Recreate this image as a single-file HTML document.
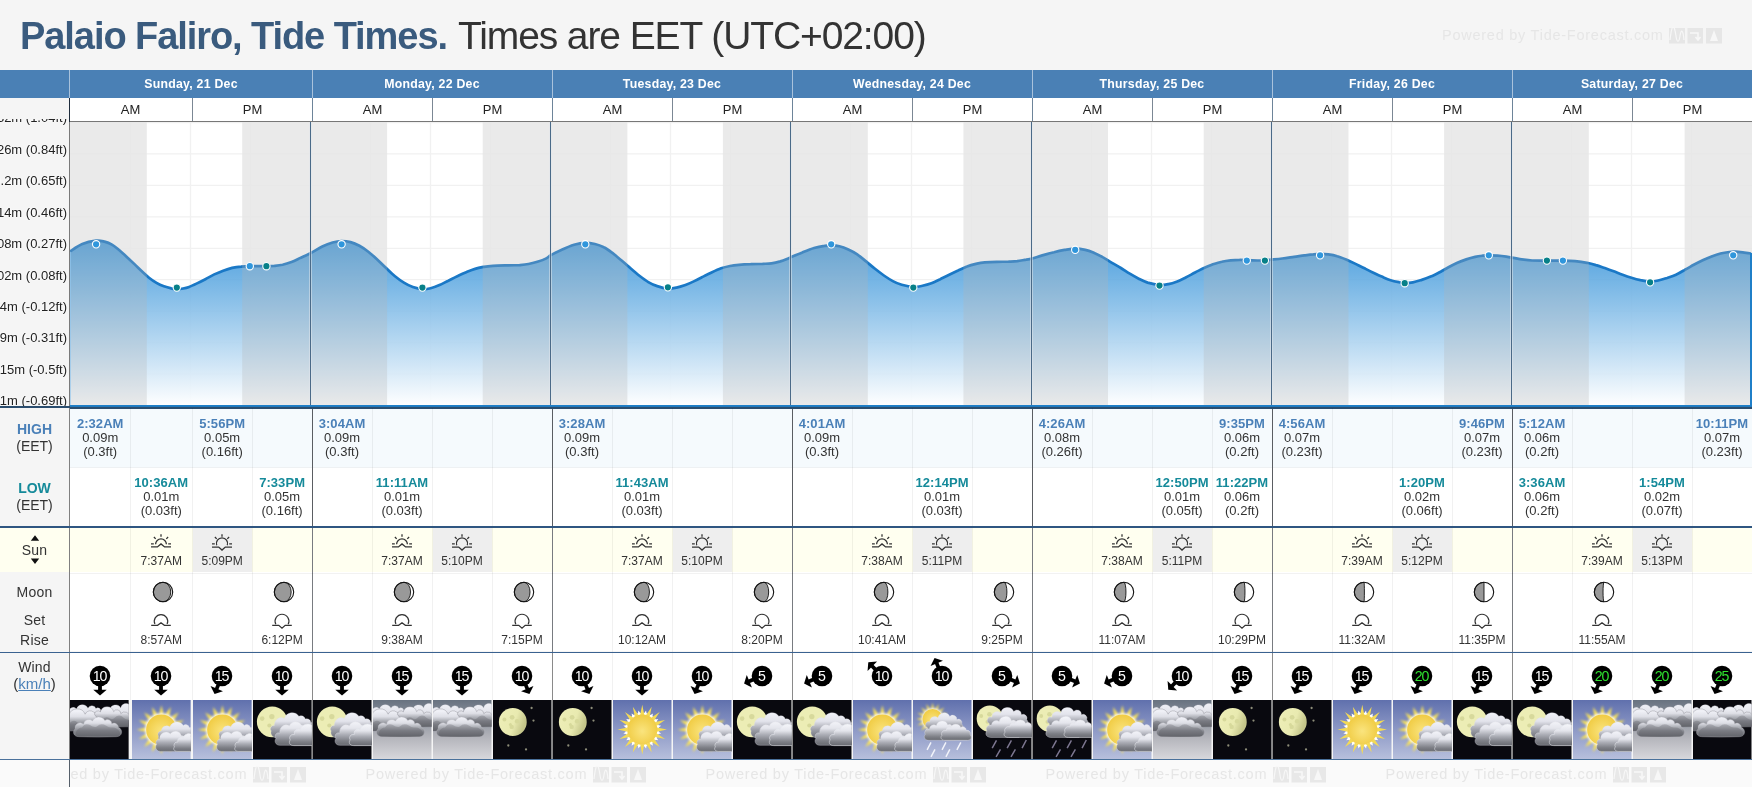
<!DOCTYPE html><html><head><meta charset="utf-8"><title>Palaio Faliro Tide Times</title><style>

html,body{margin:0;padding:0;background:#f5f5f5}
body{width:1752px;height:787px;overflow:hidden;will-change:transform;background:#f5f5f5;font-family:"Liberation Sans",sans-serif;position:relative;color:#333}
.abs{position:absolute}
.t{position:absolute;white-space:nowrap;text-align:center}
.title{position:absolute;left:20px;top:14px;font-size:38px;line-height:44px;white-space:nowrap;color:#333;letter-spacing:-0.58px}
.title b{color:#3a5b7e;letter-spacing:-1.07px}
.dayh{position:absolute;top:70px;height:28px;line-height:28px;color:#fff;font-weight:bold;font-size:12.3px;letter-spacing:0.25px;text-align:center}
.ampm{position:absolute;top:98px;height:23px;line-height:23px;font-size:13px;color:#222;text-align:center;background:#fff}
.yl{position:absolute;right:1685px;white-space:nowrap;font-size:13px;line-height:14px;color:#222;text-shadow:0 0 2px #fff,0 0 3px #fff}
.cell{position:absolute;text-align:center;font-size:13px;line-height:14px;color:#333;white-space:nowrap}
.cell b{display:block;font-size:13px;letter-spacing:0.06px}
.hi b{color:#4a80b8}.lo b{color:#158a9a}
.lab{position:absolute;left:0;width:69px;text-align:center;font-size:14px;line-height:17px;color:#333}
.st{position:absolute;text-align:center;font-size:12px;line-height:14px;color:#333;white-space:nowrap}
.wm{position:absolute;font-size:14.5px;line-height:18px;color:#e6e6e6;white-space:nowrap;letter-spacing:0.75px}

</style></head><body>
<div class="title"><b>Palaio Faliro, Tide Times.</b> <span style="font-size:39px;letter-spacing:-1.1px;margin-left:1px">Times are EET (UTC+02:00)</span></div>
<div class="wm" style="left:1442px;top:26px">Powered by Tide-Forecast.com</div>
<svg class="abs" style="left:1667.0px;top:26.5px" width="56" height="18" viewBox="0 0 56 18"><rect x="2" y="1" width="16" height="15.5" fill="#e6e6e6"/><rect x="20.5" y="1" width="15.5" height="15.5" fill="#e6e6e6"/><rect x="39" y="1" width="16" height="15.5" fill="#e6e6e6"/><path d="M3,13 C5,-4 7,-4 9,9 C10,16 12,16 13,9 C14,2 16,2 17,13" fill="none" stroke="#f7f7f7" stroke-width="1.2"/><path d="M23,6 H31 V12 M28.5,10 L31,13 L33.5,10" fill="none" stroke="#f7f7f7" stroke-width="1.6"/><path d="M47,3 L51,14 H43 Z" fill="#f7f7f7"/></svg>
<div class="abs" style="left:0;top:70px;width:1752px;height:28px;background:#4a80b5"></div>
<div class="abs" style="left:69px;top:70px;width:1px;height:28px;background:#a9c2dc"></div>
<div class="dayh" style="left:70px;width:242px">Sunday, 21 Dec</div>
<div class="dayh" style="left:312px;width:240px">Monday, 22 Dec</div>
<div class="abs" style="left:312px;top:70px;width:1px;height:28px;background:#a9c2dc"></div>
<div class="dayh" style="left:552px;width:240px">Tuesday, 23 Dec</div>
<div class="abs" style="left:552px;top:70px;width:1px;height:28px;background:#a9c2dc"></div>
<div class="dayh" style="left:792px;width:240px">Wednesday, 24 Dec</div>
<div class="abs" style="left:792px;top:70px;width:1px;height:28px;background:#a9c2dc"></div>
<div class="dayh" style="left:1032px;width:240px">Thursday, 25 Dec</div>
<div class="abs" style="left:1032px;top:70px;width:1px;height:28px;background:#a9c2dc"></div>
<div class="dayh" style="left:1272px;width:240px">Friday, 26 Dec</div>
<div class="abs" style="left:1272px;top:70px;width:1px;height:28px;background:#a9c2dc"></div>
<div class="dayh" style="left:1512px;width:240px">Saturday, 27 Dec</div>
<div class="abs" style="left:1512px;top:70px;width:1px;height:28px;background:#a9c2dc"></div>
<div class="abs" style="left:70px;top:98px;width:1682px;height:23px;background:#fff"></div>
<div class="ampm" style="left:71px;width:119px">AM</div>
<div class="ampm" style="left:193px;width:119px">PM</div>
<div class="abs" style="left:192px;top:98px;width:1px;height:23px;background:#7b8794"></div>
<div class="ampm" style="left:313px;width:119px">AM</div>
<div class="ampm" style="left:433px;width:119px">PM</div>
<div class="abs" style="left:432px;top:98px;width:1px;height:23px;background:#7b8794"></div>
<div class="abs" style="left:312px;top:98px;width:1px;height:23px;background:#6d8499"></div>
<div class="ampm" style="left:553px;width:119px">AM</div>
<div class="ampm" style="left:673px;width:119px">PM</div>
<div class="abs" style="left:672px;top:98px;width:1px;height:23px;background:#7b8794"></div>
<div class="abs" style="left:552px;top:98px;width:1px;height:23px;background:#6d8499"></div>
<div class="ampm" style="left:793px;width:119px">AM</div>
<div class="ampm" style="left:913px;width:119px">PM</div>
<div class="abs" style="left:912px;top:98px;width:1px;height:23px;background:#7b8794"></div>
<div class="abs" style="left:792px;top:98px;width:1px;height:23px;background:#6d8499"></div>
<div class="ampm" style="left:1033px;width:119px">AM</div>
<div class="ampm" style="left:1153px;width:119px">PM</div>
<div class="abs" style="left:1152px;top:98px;width:1px;height:23px;background:#7b8794"></div>
<div class="abs" style="left:1032px;top:98px;width:1px;height:23px;background:#6d8499"></div>
<div class="ampm" style="left:1273px;width:119px">AM</div>
<div class="ampm" style="left:1393px;width:119px">PM</div>
<div class="abs" style="left:1392px;top:98px;width:1px;height:23px;background:#7b8794"></div>
<div class="abs" style="left:1272px;top:98px;width:1px;height:23px;background:#6d8499"></div>
<div class="ampm" style="left:1513px;width:119px">AM</div>
<div class="ampm" style="left:1633px;width:119px">PM</div>
<div class="abs" style="left:1632px;top:98px;width:1px;height:23px;background:#7b8794"></div>
<div class="abs" style="left:1512px;top:98px;width:1px;height:23px;background:#6d8499"></div>
<div class="abs" style="left:69px;top:98px;width:1px;height:24px;background:#1e2c3c"></div>
<div class="abs" style="left:70px;top:121px;width:1682px;height:1px;background:#777"></div>
<div class="abs" style="left:0;top:118.5px;width:69px;height:288.5px;overflow:hidden">
<div class="yl" style="right:2px;top:-7.2px">0.32m (1.04ft)</div>
<div class="yl" style="right:2px;top:24.2px">0.26m (0.84ft)</div>
<div class="yl" style="right:2px;top:55.7px">0.2m (0.65ft)</div>
<div class="yl" style="right:2px;top:87.1px">0.14m (0.46ft)</div>
<div class="yl" style="right:2px;top:118.6px">0.08m (0.27ft)</div>
<div class="yl" style="right:2px;top:150.0px">0.02m (0.08ft)</div>
<div class="yl" style="right:2px;top:181.4px">-0.04m (-0.12ft)</div>
<div class="yl" style="right:2px;top:212.9px">-0.09m (-0.31ft)</div>
<div class="yl" style="right:2px;top:244.3px">-0.15m (-0.5ft)</div>
<div class="yl" style="right:2px;top:275.8px">-0.21m (-0.69ft)</div>
</div>
<svg class="abs" style="left:0;top:0" width="1752" height="787" viewBox="0 0 1752 787">
<defs><linearGradient id="ag" x1="0" y1="241" x2="0" y2="406" gradientUnits="userSpaceOnUse"><stop offset="0" stop-color="#3090d8" stop-opacity="0.86"/><stop offset="1" stop-color="#ffffff" stop-opacity="0.92"/></linearGradient>
<clipPath id="cc"><rect x="70" y="122" width="1682" height="286"/></clipPath></defs>
<rect x="70" y="122" width="1682" height="285" fill="#fff"/>
<g clip-path="url(#cc)">
<line x1="70" x2="1752" y1="122.5" y2="122.5" stroke="#f1f1f1" stroke-width="1.3"/>
<line x1="70" x2="1752" y1="153.9" y2="153.9" stroke="#f1f1f1" stroke-width="1.3"/>
<line x1="70" x2="1752" y1="185.4" y2="185.4" stroke="#f1f1f1" stroke-width="1.3"/>
<line x1="70" x2="1752" y1="216.8" y2="216.8" stroke="#f1f1f1" stroke-width="1.3"/>
<line x1="70" x2="1752" y1="248.3" y2="248.3" stroke="#f1f1f1" stroke-width="1.3"/>
<line x1="70" x2="1752" y1="279.7" y2="279.7" stroke="#f1f1f1" stroke-width="1.3"/>
<line x1="70" x2="1752" y1="311.1" y2="311.1" stroke="#f1f1f1" stroke-width="1.3"/>
<line x1="70" x2="1752" y1="342.6" y2="342.6" stroke="#f1f1f1" stroke-width="1.3"/>
<line x1="70" x2="1752" y1="374.0" y2="374.0" stroke="#f1f1f1" stroke-width="1.3"/>
<line x1="70" x2="1752" y1="405.5" y2="405.5" stroke="#f1f1f1" stroke-width="1.3"/>
<line x1="130.5" x2="130.5" y1="122" y2="407" stroke="#f1f1f1" stroke-width="1.3"/>
<line x1="190.5" x2="190.5" y1="122" y2="407" stroke="#f1f1f1" stroke-width="1.3"/>
<line x1="250.5" x2="250.5" y1="122" y2="407" stroke="#f1f1f1" stroke-width="1.3"/>
<line x1="370.5" x2="370.5" y1="122" y2="407" stroke="#f1f1f1" stroke-width="1.3"/>
<line x1="430.5" x2="430.5" y1="122" y2="407" stroke="#f1f1f1" stroke-width="1.3"/>
<line x1="490.5" x2="490.5" y1="122" y2="407" stroke="#f1f1f1" stroke-width="1.3"/>
<line x1="610.5" x2="610.5" y1="122" y2="407" stroke="#f1f1f1" stroke-width="1.3"/>
<line x1="670.5" x2="670.5" y1="122" y2="407" stroke="#f1f1f1" stroke-width="1.3"/>
<line x1="730.5" x2="730.5" y1="122" y2="407" stroke="#f1f1f1" stroke-width="1.3"/>
<line x1="850.5" x2="850.5" y1="122" y2="407" stroke="#f1f1f1" stroke-width="1.3"/>
<line x1="911.5" x2="911.5" y1="122" y2="407" stroke="#f1f1f1" stroke-width="1.3"/>
<line x1="971.5" x2="971.5" y1="122" y2="407" stroke="#f1f1f1" stroke-width="1.3"/>
<line x1="1091.5" x2="1091.5" y1="122" y2="407" stroke="#f1f1f1" stroke-width="1.3"/>
<line x1="1151.5" x2="1151.5" y1="122" y2="407" stroke="#f1f1f1" stroke-width="1.3"/>
<line x1="1211.5" x2="1211.5" y1="122" y2="407" stroke="#f1f1f1" stroke-width="1.3"/>
<line x1="1331.5" x2="1331.5" y1="122" y2="407" stroke="#f1f1f1" stroke-width="1.3"/>
<line x1="1391.5" x2="1391.5" y1="122" y2="407" stroke="#f1f1f1" stroke-width="1.3"/>
<line x1="1451.5" x2="1451.5" y1="122" y2="407" stroke="#f1f1f1" stroke-width="1.3"/>
<line x1="1571.5" x2="1571.5" y1="122" y2="407" stroke="#f1f1f1" stroke-width="1.3"/>
<line x1="1631.5" x2="1631.5" y1="122" y2="407" stroke="#f1f1f1" stroke-width="1.3"/>
<line x1="1691.5" x2="1691.5" y1="122" y2="407" stroke="#f1f1f1" stroke-width="1.3"/>
<rect x="70.0" y="122" width="76.8" height="285" fill="#fff" fill-opacity="0.8"/>
<rect x="242.2" y="122" width="68.1" height="285" fill="#fff" fill-opacity="0.8"/>
<rect x="310.3" y="122" width="76.8" height="285" fill="#fff" fill-opacity="0.8"/>
<rect x="482.7" y="122" width="67.9" height="285" fill="#fff" fill-opacity="0.8"/>
<rect x="550.6" y="122" width="76.8" height="285" fill="#fff" fill-opacity="0.8"/>
<rect x="722.9" y="122" width="67.9" height="285" fill="#fff" fill-opacity="0.8"/>
<rect x="790.9" y="122" width="76.9" height="285" fill="#fff" fill-opacity="0.8"/>
<rect x="963.4" y="122" width="67.7" height="285" fill="#fff" fill-opacity="0.8"/>
<rect x="1031.1" y="122" width="76.9" height="285" fill="#fff" fill-opacity="0.8"/>
<rect x="1203.7" y="122" width="67.7" height="285" fill="#fff" fill-opacity="0.8"/>
<rect x="1271.4" y="122" width="77.1" height="285" fill="#fff" fill-opacity="0.8"/>
<rect x="1444.1" y="122" width="67.6" height="285" fill="#fff" fill-opacity="0.8"/>
<rect x="1511.7" y="122" width="77.1" height="285" fill="#fff" fill-opacity="0.8"/>
<rect x="1684.6" y="122" width="67.4" height="285" fill="#fff" fill-opacity="0.8"/>
<path d="M70.1,251.4 C72.1,250.2 77.9,245.8 82.3,244.0 C86.6,242.2 92.4,241.1 96.1,240.7 C99.8,240.3 101.9,241.0 104.5,241.6 C107.2,242.3 109.5,243.2 111.9,244.6 C114.4,246.0 116.9,248.2 119.4,250.2 C121.8,252.3 124.3,254.6 126.8,256.9 C129.3,259.2 131.7,261.5 134.2,263.9 C136.7,266.2 139.1,268.7 141.6,271.0 C144.1,273.3 146.6,275.7 149.0,277.7 C151.5,279.7 154.0,281.4 156.5,282.9 C158.9,284.3 161.4,285.4 163.9,286.3 C166.4,287.2 169.1,287.9 171.3,288.4 C173.5,288.8 174.8,289.1 176.8,289.1 C178.8,289.1 181.1,288.9 183.2,288.5 C185.2,288.1 186.9,287.7 189.1,286.9 C191.3,286.1 193.8,284.9 196.5,283.6 C199.3,282.3 202.5,280.7 205.4,279.2 C208.4,277.6 211.4,275.8 214.3,274.4 C217.3,273.0 220.3,271.8 223.2,270.7 C226.2,269.6 229.2,268.6 232.1,267.9 C235.1,267.2 238.1,266.8 241.1,266.6 C244.0,266.3 245.7,266.2 250.0,266.1 C254.2,266.0 262.3,266.1 266.3,266.1 C270.2,266.1 271.0,266.2 273.7,266.0 C276.4,265.7 279.6,265.4 282.6,264.8 C285.6,264.1 288.5,263.2 291.5,262.1 C294.5,261.0 297.3,259.4 300.4,257.9 C303.6,256.5 306.7,255.1 310.4,253.2 C314.0,251.3 318.6,248.3 322.3,246.5 C326.0,244.7 329.4,243.4 332.6,242.5 C335.9,241.6 338.6,241.1 341.6,241.0 C344.5,241.0 347.5,241.3 350.5,242.1 C353.4,242.9 356.4,244.2 359.4,245.8 C362.3,247.4 365.3,249.4 368.3,251.7 C371.2,254.0 374.2,256.7 377.2,259.4 C380.1,262.1 383.1,265.2 386.1,268.0 C389.0,270.8 392.0,273.8 395.0,276.2 C397.9,278.6 400.9,280.8 403.9,282.6 C406.8,284.4 409.7,285.9 412.8,287.0 C415.9,288.1 419.5,288.9 422.4,289.1 C425.4,289.3 427.7,288.9 430.6,288.2 C433.4,287.6 436.5,286.4 439.5,285.1 C442.5,283.8 445.4,282.1 448.4,280.7 C451.4,279.2 454.3,277.6 457.3,276.2 C460.3,274.8 463.2,273.4 466.2,272.2 C469.2,271.0 472.1,269.8 475.1,268.9 C478.1,268.0 481.1,267.4 484.0,266.8 C487.0,266.3 489.0,266.1 492.9,265.8 C496.9,265.6 503.3,265.5 507.8,265.4 C512.2,265.2 516.2,265.3 519.6,265.1 C523.1,264.8 525.6,264.6 528.5,264.0 C531.5,263.5 534.5,262.7 537.4,261.8 C540.4,260.9 544.2,259.5 546.3,258.4 C548.5,257.3 547.7,256.9 550.4,255.4 C553.0,253.9 558.3,251.3 562.3,249.5 C566.2,247.7 570.3,245.9 574.1,244.7 C578.0,243.6 581.8,242.9 585.3,242.8 C588.7,242.7 591.8,243.3 594.9,244.0 C598.0,244.7 600.8,245.7 603.8,247.3 C606.8,248.8 609.7,251.0 612.7,253.2 C615.7,255.4 618.7,258.1 621.6,260.6 C624.6,263.1 627.6,265.8 630.5,268.3 C633.5,270.9 636.5,273.5 639.4,275.8 C642.4,278.1 645.4,280.4 648.3,282.1 C651.3,283.9 654.0,285.1 657.2,286.1 C660.5,287.2 664.4,288.3 667.6,288.5 C670.8,288.8 673.6,288.2 676.5,287.6 C679.5,287.0 682.5,286.0 685.4,285.0 C688.4,283.9 691.4,282.5 694.3,281.1 C697.3,279.7 700.3,278.1 703.2,276.6 C706.2,275.2 709.2,273.6 712.1,272.2 C715.1,270.8 718.1,269.4 721.1,268.3 C724.0,267.3 727.0,266.6 730.0,266.0 C732.9,265.4 735.4,265.1 738.9,264.8 C742.3,264.5 746.8,264.3 750.7,264.2 C754.7,264.0 759.1,264.0 762.6,263.9 C766.1,263.7 768.5,263.7 771.5,263.3 C774.5,262.9 777.4,262.2 780.4,261.4 C783.4,260.5 785.7,259.4 789.3,257.9 C793.0,256.5 798.1,254.1 802.3,252.5 C806.4,250.8 810.4,249.1 814.1,248.0 C817.8,246.9 821.7,246.2 824.5,245.8 C827.4,245.3 828.7,245.3 831.2,245.3 C833.7,245.4 836.5,245.5 839.4,246.2 C842.2,246.9 845.3,248.1 848.3,249.5 C851.2,250.8 854.2,252.4 857.2,254.4 C860.1,256.4 863.1,259.0 866.1,261.4 C869.0,263.8 872.0,266.4 875.0,268.8 C877.9,271.1 880.9,273.4 883.9,275.5 C886.8,277.5 889.8,279.5 892.8,281.1 C895.8,282.7 898.2,283.8 901.7,284.8 C905.2,285.8 910.1,286.9 913.6,287.0 C917.0,287.2 919.5,286.5 922.5,285.8 C925.4,285.2 928.4,284.4 931.4,283.3 C934.3,282.2 937.3,280.6 940.3,279.2 C943.2,277.7 946.2,276.1 949.2,274.7 C952.1,273.3 955.1,271.9 958.1,270.6 C961.1,269.2 964.0,267.7 967.0,266.6 C970.0,265.4 972.9,264.6 975.9,263.9 C978.9,263.2 981.3,262.7 984.8,262.4 C988.3,262.1 992.7,261.9 996.7,261.8 C1000.6,261.7 1005.1,261.8 1008.5,261.7 C1012.0,261.5 1014.5,261.4 1017.4,261.1 C1020.4,260.7 1024.1,259.9 1026.3,259.6 C1028.6,259.2 1028.5,259.5 1031.1,258.8 C1033.8,258.1 1038.4,256.5 1042.3,255.4 C1046.1,254.3 1050.4,253.1 1054.1,252.2 C1057.8,251.2 1061.0,250.5 1064.5,249.9 C1068.0,249.4 1071.7,248.7 1075.2,248.7 C1078.7,248.7 1082.1,249.2 1085.3,249.9 C1088.5,250.6 1091.2,251.7 1094.2,252.9 C1097.2,254.1 1100.1,255.7 1103.1,257.4 C1106.1,259.0 1109.0,261.1 1112.0,262.8 C1115.0,264.6 1117.9,266.2 1120.9,268.0 C1123.9,269.8 1126.8,271.9 1129.8,273.7 C1132.8,275.5 1135.8,277.2 1138.7,278.7 C1141.7,280.2 1144.2,281.5 1147.6,282.6 C1151.1,283.6 1156.0,284.7 1159.5,285.0 C1163.0,285.2 1165.4,284.7 1168.4,284.1 C1171.4,283.5 1174.3,282.5 1177.3,281.4 C1180.3,280.3 1183.2,278.7 1186.2,277.2 C1189.2,275.8 1192.1,274.0 1195.1,272.5 C1198.1,271.0 1201.1,269.4 1204.0,268.0 C1207.0,266.7 1210.0,265.4 1212.9,264.3 C1215.9,263.3 1218.9,262.3 1221.8,261.7 C1224.8,261.0 1227.8,260.6 1230.7,260.3 C1233.7,260.0 1236.9,259.9 1239.6,259.9 C1242.4,259.8 1244.1,260.1 1247.1,260.2 C1250.0,260.3 1254.5,260.4 1257.4,260.5 C1260.4,260.5 1262.6,260.6 1264.9,260.5 C1267.1,260.3 1268.2,260.0 1271.1,259.7 C1274.0,259.4 1278.4,259.0 1282.3,258.5 C1286.1,258.1 1290.4,257.4 1294.1,256.9 C1297.8,256.4 1301.3,255.8 1304.5,255.4 C1307.7,255.0 1310.8,254.6 1313.4,254.4 C1316.0,254.1 1317.6,253.9 1320.1,253.9 C1322.6,253.9 1325.4,254.0 1328.3,254.4 C1331.1,254.8 1334.2,255.3 1337.2,256.2 C1340.1,257.0 1343.1,258.2 1346.1,259.4 C1349.0,260.7 1352.0,262.1 1355.0,263.6 C1357.9,265.0 1360.9,266.6 1363.9,268.0 C1366.8,269.5 1369.8,271.1 1372.8,272.5 C1375.8,273.9 1378.7,275.4 1381.7,276.6 C1384.7,277.9 1387.6,279.3 1390.6,280.2 C1393.6,281.1 1397.1,281.8 1399.5,282.3 C1401.8,282.7 1402.5,282.9 1404.7,282.9 C1406.9,282.9 1410.0,282.8 1412.9,282.3 C1415.7,281.8 1418.8,280.8 1421.8,279.9 C1424.7,279.0 1427.7,277.9 1430.7,276.6 C1433.6,275.4 1436.6,273.8 1439.6,272.2 C1442.5,270.6 1445.5,268.9 1448.5,267.3 C1451.4,265.7 1454.4,264.2 1457.4,262.8 C1460.3,261.5 1463.3,260.4 1466.3,259.4 C1469.2,258.4 1472.5,257.5 1475.2,256.9 C1477.9,256.3 1480.3,256.0 1482.6,255.7 C1485.0,255.4 1486.8,255.3 1489.3,255.3 C1491.8,255.3 1494.6,255.5 1497.4,255.7 C1500.3,255.9 1504.0,256.3 1506.3,256.6 C1508.7,256.9 1508.7,257.2 1511.3,257.6 C1513.8,258.1 1518.2,259.0 1521.7,259.4 C1525.1,259.9 1527.9,260.3 1532.1,260.5 C1536.3,260.7 1541.7,260.6 1546.9,260.6 C1552.1,260.6 1558.5,260.5 1563.2,260.6 C1567.9,260.7 1571.1,260.8 1575.1,261.2 C1579.1,261.6 1583.5,262.2 1587.0,262.8 C1590.4,263.5 1592.9,264.2 1595.9,265.1 C1598.8,265.9 1601.8,267.0 1604.8,268.0 C1607.8,269.1 1610.7,270.2 1613.7,271.3 C1616.7,272.4 1619.6,273.7 1622.6,274.7 C1625.6,275.8 1628.5,276.8 1631.5,277.7 C1634.5,278.6 1637.3,279.4 1640.4,280.1 C1643.5,280.7 1647.1,281.3 1650.0,281.4 C1653.0,281.5 1655.4,281.1 1658.2,280.5 C1661.1,279.9 1664.1,278.9 1667.1,278.0 C1670.1,277.0 1673.1,276.1 1676.0,274.7 C1679.0,273.4 1682.0,271.5 1684.9,269.8 C1687.9,268.2 1690.9,266.4 1693.8,264.8 C1696.8,263.2 1699.8,261.7 1702.7,260.3 C1705.7,258.9 1708.7,257.6 1711.6,256.5 C1714.6,255.3 1717.6,254.2 1720.5,253.5 C1723.5,252.8 1727.0,252.3 1729.4,252.0 C1731.9,251.7 1732.9,251.6 1735.4,251.7 C1737.9,251.8 1741.7,252.3 1744.3,252.6 C1746.9,252.9 1749.8,253.3 1751.0,253.5 L1752,407 L70,407 Z" fill="url(#ag)"/>
<path d="M70.1,251.4 C72.1,250.2 77.9,245.8 82.3,244.0 C86.6,242.2 92.4,241.1 96.1,240.7 C99.8,240.3 101.9,241.0 104.5,241.6 C107.2,242.3 109.5,243.2 111.9,244.6 C114.4,246.0 116.9,248.2 119.4,250.2 C121.8,252.3 124.3,254.6 126.8,256.9 C129.3,259.2 131.7,261.5 134.2,263.9 C136.7,266.2 139.1,268.7 141.6,271.0 C144.1,273.3 146.6,275.7 149.0,277.7 C151.5,279.7 154.0,281.4 156.5,282.9 C158.9,284.3 161.4,285.4 163.9,286.3 C166.4,287.2 169.1,287.9 171.3,288.4 C173.5,288.8 174.8,289.1 176.8,289.1 C178.8,289.1 181.1,288.9 183.2,288.5 C185.2,288.1 186.9,287.7 189.1,286.9 C191.3,286.1 193.8,284.9 196.5,283.6 C199.3,282.3 202.5,280.7 205.4,279.2 C208.4,277.6 211.4,275.8 214.3,274.4 C217.3,273.0 220.3,271.8 223.2,270.7 C226.2,269.6 229.2,268.6 232.1,267.9 C235.1,267.2 238.1,266.8 241.1,266.6 C244.0,266.3 245.7,266.2 250.0,266.1 C254.2,266.0 262.3,266.1 266.3,266.1 C270.2,266.1 271.0,266.2 273.7,266.0 C276.4,265.7 279.6,265.4 282.6,264.8 C285.6,264.1 288.5,263.2 291.5,262.1 C294.5,261.0 297.3,259.4 300.4,257.9 C303.6,256.5 306.7,255.1 310.4,253.2 C314.0,251.3 318.6,248.3 322.3,246.5 C326.0,244.7 329.4,243.4 332.6,242.5 C335.9,241.6 338.6,241.1 341.6,241.0 C344.5,241.0 347.5,241.3 350.5,242.1 C353.4,242.9 356.4,244.2 359.4,245.8 C362.3,247.4 365.3,249.4 368.3,251.7 C371.2,254.0 374.2,256.7 377.2,259.4 C380.1,262.1 383.1,265.2 386.1,268.0 C389.0,270.8 392.0,273.8 395.0,276.2 C397.9,278.6 400.9,280.8 403.9,282.6 C406.8,284.4 409.7,285.9 412.8,287.0 C415.9,288.1 419.5,288.9 422.4,289.1 C425.4,289.3 427.7,288.9 430.6,288.2 C433.4,287.6 436.5,286.4 439.5,285.1 C442.5,283.8 445.4,282.1 448.4,280.7 C451.4,279.2 454.3,277.6 457.3,276.2 C460.3,274.8 463.2,273.4 466.2,272.2 C469.2,271.0 472.1,269.8 475.1,268.9 C478.1,268.0 481.1,267.4 484.0,266.8 C487.0,266.3 489.0,266.1 492.9,265.8 C496.9,265.6 503.3,265.5 507.8,265.4 C512.2,265.2 516.2,265.3 519.6,265.1 C523.1,264.8 525.6,264.6 528.5,264.0 C531.5,263.5 534.5,262.7 537.4,261.8 C540.4,260.9 544.2,259.5 546.3,258.4 C548.5,257.3 547.7,256.9 550.4,255.4 C553.0,253.9 558.3,251.3 562.3,249.5 C566.2,247.7 570.3,245.9 574.1,244.7 C578.0,243.6 581.8,242.9 585.3,242.8 C588.7,242.7 591.8,243.3 594.9,244.0 C598.0,244.7 600.8,245.7 603.8,247.3 C606.8,248.8 609.7,251.0 612.7,253.2 C615.7,255.4 618.7,258.1 621.6,260.6 C624.6,263.1 627.6,265.8 630.5,268.3 C633.5,270.9 636.5,273.5 639.4,275.8 C642.4,278.1 645.4,280.4 648.3,282.1 C651.3,283.9 654.0,285.1 657.2,286.1 C660.5,287.2 664.4,288.3 667.6,288.5 C670.8,288.8 673.6,288.2 676.5,287.6 C679.5,287.0 682.5,286.0 685.4,285.0 C688.4,283.9 691.4,282.5 694.3,281.1 C697.3,279.7 700.3,278.1 703.2,276.6 C706.2,275.2 709.2,273.6 712.1,272.2 C715.1,270.8 718.1,269.4 721.1,268.3 C724.0,267.3 727.0,266.6 730.0,266.0 C732.9,265.4 735.4,265.1 738.9,264.8 C742.3,264.5 746.8,264.3 750.7,264.2 C754.7,264.0 759.1,264.0 762.6,263.9 C766.1,263.7 768.5,263.7 771.5,263.3 C774.5,262.9 777.4,262.2 780.4,261.4 C783.4,260.5 785.7,259.4 789.3,257.9 C793.0,256.5 798.1,254.1 802.3,252.5 C806.4,250.8 810.4,249.1 814.1,248.0 C817.8,246.9 821.7,246.2 824.5,245.8 C827.4,245.3 828.7,245.3 831.2,245.3 C833.7,245.4 836.5,245.5 839.4,246.2 C842.2,246.9 845.3,248.1 848.3,249.5 C851.2,250.8 854.2,252.4 857.2,254.4 C860.1,256.4 863.1,259.0 866.1,261.4 C869.0,263.8 872.0,266.4 875.0,268.8 C877.9,271.1 880.9,273.4 883.9,275.5 C886.8,277.5 889.8,279.5 892.8,281.1 C895.8,282.7 898.2,283.8 901.7,284.8 C905.2,285.8 910.1,286.9 913.6,287.0 C917.0,287.2 919.5,286.5 922.5,285.8 C925.4,285.2 928.4,284.4 931.4,283.3 C934.3,282.2 937.3,280.6 940.3,279.2 C943.2,277.7 946.2,276.1 949.2,274.7 C952.1,273.3 955.1,271.9 958.1,270.6 C961.1,269.2 964.0,267.7 967.0,266.6 C970.0,265.4 972.9,264.6 975.9,263.9 C978.9,263.2 981.3,262.7 984.8,262.4 C988.3,262.1 992.7,261.9 996.7,261.8 C1000.6,261.7 1005.1,261.8 1008.5,261.7 C1012.0,261.5 1014.5,261.4 1017.4,261.1 C1020.4,260.7 1024.1,259.9 1026.3,259.6 C1028.6,259.2 1028.5,259.5 1031.1,258.8 C1033.8,258.1 1038.4,256.5 1042.3,255.4 C1046.1,254.3 1050.4,253.1 1054.1,252.2 C1057.8,251.2 1061.0,250.5 1064.5,249.9 C1068.0,249.4 1071.7,248.7 1075.2,248.7 C1078.7,248.7 1082.1,249.2 1085.3,249.9 C1088.5,250.6 1091.2,251.7 1094.2,252.9 C1097.2,254.1 1100.1,255.7 1103.1,257.4 C1106.1,259.0 1109.0,261.1 1112.0,262.8 C1115.0,264.6 1117.9,266.2 1120.9,268.0 C1123.9,269.8 1126.8,271.9 1129.8,273.7 C1132.8,275.5 1135.8,277.2 1138.7,278.7 C1141.7,280.2 1144.2,281.5 1147.6,282.6 C1151.1,283.6 1156.0,284.7 1159.5,285.0 C1163.0,285.2 1165.4,284.7 1168.4,284.1 C1171.4,283.5 1174.3,282.5 1177.3,281.4 C1180.3,280.3 1183.2,278.7 1186.2,277.2 C1189.2,275.8 1192.1,274.0 1195.1,272.5 C1198.1,271.0 1201.1,269.4 1204.0,268.0 C1207.0,266.7 1210.0,265.4 1212.9,264.3 C1215.9,263.3 1218.9,262.3 1221.8,261.7 C1224.8,261.0 1227.8,260.6 1230.7,260.3 C1233.7,260.0 1236.9,259.9 1239.6,259.9 C1242.4,259.8 1244.1,260.1 1247.1,260.2 C1250.0,260.3 1254.5,260.4 1257.4,260.5 C1260.4,260.5 1262.6,260.6 1264.9,260.5 C1267.1,260.3 1268.2,260.0 1271.1,259.7 C1274.0,259.4 1278.4,259.0 1282.3,258.5 C1286.1,258.1 1290.4,257.4 1294.1,256.9 C1297.8,256.4 1301.3,255.8 1304.5,255.4 C1307.7,255.0 1310.8,254.6 1313.4,254.4 C1316.0,254.1 1317.6,253.9 1320.1,253.9 C1322.6,253.9 1325.4,254.0 1328.3,254.4 C1331.1,254.8 1334.2,255.3 1337.2,256.2 C1340.1,257.0 1343.1,258.2 1346.1,259.4 C1349.0,260.7 1352.0,262.1 1355.0,263.6 C1357.9,265.0 1360.9,266.6 1363.9,268.0 C1366.8,269.5 1369.8,271.1 1372.8,272.5 C1375.8,273.9 1378.7,275.4 1381.7,276.6 C1384.7,277.9 1387.6,279.3 1390.6,280.2 C1393.6,281.1 1397.1,281.8 1399.5,282.3 C1401.8,282.7 1402.5,282.9 1404.7,282.9 C1406.9,282.9 1410.0,282.8 1412.9,282.3 C1415.7,281.8 1418.8,280.8 1421.8,279.9 C1424.7,279.0 1427.7,277.9 1430.7,276.6 C1433.6,275.4 1436.6,273.8 1439.6,272.2 C1442.5,270.6 1445.5,268.9 1448.5,267.3 C1451.4,265.7 1454.4,264.2 1457.4,262.8 C1460.3,261.5 1463.3,260.4 1466.3,259.4 C1469.2,258.4 1472.5,257.5 1475.2,256.9 C1477.9,256.3 1480.3,256.0 1482.6,255.7 C1485.0,255.4 1486.8,255.3 1489.3,255.3 C1491.8,255.3 1494.6,255.5 1497.4,255.7 C1500.3,255.9 1504.0,256.3 1506.3,256.6 C1508.7,256.9 1508.7,257.2 1511.3,257.6 C1513.8,258.1 1518.2,259.0 1521.7,259.4 C1525.1,259.9 1527.9,260.3 1532.1,260.5 C1536.3,260.7 1541.7,260.6 1546.9,260.6 C1552.1,260.6 1558.5,260.5 1563.2,260.6 C1567.9,260.7 1571.1,260.8 1575.1,261.2 C1579.1,261.6 1583.5,262.2 1587.0,262.8 C1590.4,263.5 1592.9,264.2 1595.9,265.1 C1598.8,265.9 1601.8,267.0 1604.8,268.0 C1607.8,269.1 1610.7,270.2 1613.7,271.3 C1616.7,272.4 1619.6,273.7 1622.6,274.7 C1625.6,275.8 1628.5,276.8 1631.5,277.7 C1634.5,278.6 1637.3,279.4 1640.4,280.1 C1643.5,280.7 1647.1,281.3 1650.0,281.4 C1653.0,281.5 1655.4,281.1 1658.2,280.5 C1661.1,279.9 1664.1,278.9 1667.1,278.0 C1670.1,277.0 1673.1,276.1 1676.0,274.7 C1679.0,273.4 1682.0,271.5 1684.9,269.8 C1687.9,268.2 1690.9,266.4 1693.8,264.8 C1696.8,263.2 1699.8,261.7 1702.7,260.3 C1705.7,258.9 1708.7,257.6 1711.6,256.5 C1714.6,255.3 1717.6,254.2 1720.5,253.5 C1723.5,252.8 1727.0,252.3 1729.4,252.0 C1731.9,251.7 1732.9,251.6 1735.4,251.7 C1737.9,251.8 1741.7,252.3 1744.3,252.6 C1746.9,252.9 1749.8,253.3 1751.0,253.5" fill="none" stroke="#1a78c6" stroke-width="2.7" stroke-linejoin="round"/>
<rect x="70.0" y="122" width="76.8" height="285" fill="#b5b5b5" fill-opacity="0.28"/>
<rect x="242.2" y="122" width="68.1" height="285" fill="#b5b5b5" fill-opacity="0.28"/>
<rect x="310.3" y="122" width="76.8" height="285" fill="#b5b5b5" fill-opacity="0.28"/>
<rect x="482.7" y="122" width="67.9" height="285" fill="#b5b5b5" fill-opacity="0.28"/>
<rect x="550.6" y="122" width="76.8" height="285" fill="#b5b5b5" fill-opacity="0.28"/>
<rect x="722.9" y="122" width="67.9" height="285" fill="#b5b5b5" fill-opacity="0.28"/>
<rect x="790.9" y="122" width="76.9" height="285" fill="#b5b5b5" fill-opacity="0.28"/>
<rect x="963.4" y="122" width="67.7" height="285" fill="#b5b5b5" fill-opacity="0.28"/>
<rect x="1031.1" y="122" width="76.9" height="285" fill="#b5b5b5" fill-opacity="0.28"/>
<rect x="1203.7" y="122" width="67.7" height="285" fill="#b5b5b5" fill-opacity="0.28"/>
<rect x="1271.4" y="122" width="77.1" height="285" fill="#b5b5b5" fill-opacity="0.28"/>
<rect x="1444.1" y="122" width="67.6" height="285" fill="#b5b5b5" fill-opacity="0.28"/>
<rect x="1511.7" y="122" width="77.1" height="285" fill="#b5b5b5" fill-opacity="0.28"/>
<rect x="1684.6" y="122" width="67.4" height="285" fill="#b5b5b5" fill-opacity="0.28"/>
<line x1="310.5" x2="310.5" y1="122" y2="405" stroke="#fff" stroke-opacity="0.45" stroke-width="3"/>
<line x1="310.5" x2="310.5" y1="122" y2="405" stroke="#4a6a88" stroke-width="1.15"/>
<line x1="550.5" x2="550.5" y1="122" y2="405" stroke="#fff" stroke-opacity="0.45" stroke-width="3"/>
<line x1="550.5" x2="550.5" y1="122" y2="405" stroke="#4a6a88" stroke-width="1.15"/>
<line x1="790.5" x2="790.5" y1="122" y2="405" stroke="#fff" stroke-opacity="0.45" stroke-width="3"/>
<line x1="790.5" x2="790.5" y1="122" y2="405" stroke="#4a6a88" stroke-width="1.15"/>
<line x1="1031.5" x2="1031.5" y1="122" y2="405" stroke="#fff" stroke-opacity="0.45" stroke-width="3"/>
<line x1="1031.5" x2="1031.5" y1="122" y2="405" stroke="#4a6a88" stroke-width="1.15"/>
<line x1="1271.5" x2="1271.5" y1="122" y2="405" stroke="#fff" stroke-opacity="0.45" stroke-width="3"/>
<line x1="1271.5" x2="1271.5" y1="122" y2="405" stroke="#4a6a88" stroke-width="1.15"/>
<line x1="1511.5" x2="1511.5" y1="122" y2="405" stroke="#fff" stroke-opacity="0.45" stroke-width="3"/>
<line x1="1511.5" x2="1511.5" y1="122" y2="405" stroke="#4a6a88" stroke-width="1.15"/>
</g>
<circle cx="96.1" cy="244.3" r="3.65" fill="#2f96dc" stroke="#fff" stroke-width="1.1"/>
<circle cx="249.8" cy="266.2" r="3.65" fill="#2f96dc" stroke="#fff" stroke-width="1.1"/>
<circle cx="341.6" cy="244.3" r="3.65" fill="#2f96dc" stroke="#fff" stroke-width="1.1"/>
<circle cx="585.3" cy="244.3" r="3.65" fill="#2f96dc" stroke="#fff" stroke-width="1.1"/>
<circle cx="831.2" cy="244.3" r="3.65" fill="#2f96dc" stroke="#fff" stroke-width="1.1"/>
<circle cx="1075.2" cy="249.8" r="3.65" fill="#2f96dc" stroke="#fff" stroke-width="1.1"/>
<circle cx="1246.8" cy="260.6" r="3.65" fill="#2f96dc" stroke="#fff" stroke-width="1.1"/>
<circle cx="1320.1" cy="255.3" r="3.65" fill="#2f96dc" stroke="#fff" stroke-width="1.1"/>
<circle cx="1488.8" cy="255.3" r="3.65" fill="#2f96dc" stroke="#fff" stroke-width="1.1"/>
<circle cx="1562.9" cy="260.6" r="3.65" fill="#2f96dc" stroke="#fff" stroke-width="1.1"/>
<circle cx="1733.2" cy="255.3" r="3.65" fill="#2f96dc" stroke="#fff" stroke-width="1.1"/>
<circle cx="176.8" cy="287.6" r="3.65" fill="#078088" stroke="#fff" stroke-width="1.1"/>
<circle cx="266.4" cy="266.2" r="3.65" fill="#078088" stroke="#fff" stroke-width="1.1"/>
<circle cx="422.4" cy="287.6" r="3.65" fill="#078088" stroke="#fff" stroke-width="1.1"/>
<circle cx="667.9" cy="287.3" r="3.65" fill="#078088" stroke="#fff" stroke-width="1.1"/>
<circle cx="913.3" cy="287.6" r="3.65" fill="#078088" stroke="#fff" stroke-width="1.1"/>
<circle cx="1159.5" cy="285.6" r="3.65" fill="#078088" stroke="#fff" stroke-width="1.1"/>
<circle cx="1264.9" cy="260.6" r="3.65" fill="#078088" stroke="#fff" stroke-width="1.1"/>
<circle cx="1404.7" cy="283.2" r="3.65" fill="#078088" stroke="#fff" stroke-width="1.1"/>
<circle cx="1546.9" cy="260.6" r="3.65" fill="#078088" stroke="#fff" stroke-width="1.1"/>
<circle cx="1650.1" cy="282.3" r="3.65" fill="#078088" stroke="#fff" stroke-width="1.1"/>
<rect x="70" y="405" width="1682" height="2.1" fill="#1f7fc8"/><rect x="70" y="406.9" width="1682" height="2.1" fill="#2b4d6e"/><rect x="1750" y="253" width="2" height="153" fill="#1f7fc8"/>
<rect x="69" y="122" width="1" height="284" fill="#7a7a7a"/><rect x="70" y="252" width="1" height="153" fill="#8ec4ee" fill-opacity="0.6"/>
<rect x="0" y="406" width="70" height="2" fill="#2b4d6e"/>
</svg>
<div class="abs" style="left:70px;top:409px;width:1682px;height:58px;background:#f5fafd"></div>
<div class="abs" style="left:70px;top:467px;width:1682px;height:59px;background:#ffffff"></div>
<div class="abs" style="left:70px;top:467px;width:1682px;height:1px;background:#eef1f3"></div>
<div class="abs" style="left:70px;top:528px;width:1682px;height:44px;background:#fffff0"></div>
<div class="abs" style="left:0;top:528px;width:69px;height:44.4px;background:#fffff0"></div>
<div class="abs" style="left:70px;top:572px;width:1682px;height:79px;background:#ffffff"></div>
<div class="abs" style="left:70px;top:653px;width:1682px;height:47px;background:#ffffff"></div>
<div class="abs" style="left:70px;top:760px;width:1682px;height:27px;background:#fafafa"></div>
<div class="abs" style="left:0;top:760px;width:69px;height:27px;background:#fafafa"></div>
<div class="abs" style="left:192.6px;top:528px;width:59.6px;height:44.4px;background:#eeeeee"></div>
<div class="abs" style="left:432.5px;top:528px;width:59.5px;height:44.4px;background:#eeeeee"></div>
<div class="abs" style="left:672.5px;top:528px;width:59.5px;height:44.4px;background:#eeeeee"></div>
<div class="abs" style="left:912.5px;top:528px;width:59.5px;height:44.4px;background:#eeeeee"></div>
<div class="abs" style="left:1152.5px;top:528px;width:59.5px;height:44.4px;background:#eeeeee"></div>
<div class="abs" style="left:1392.5px;top:528px;width:59.5px;height:44.4px;background:#eeeeee"></div>
<div class="abs" style="left:1632.5px;top:528px;width:59.5px;height:44.4px;background:#eeeeee"></div>
<div class="abs" style="left:130px;top:408px;width:1px;height:292px;background:rgba(0,0,0,0.055)"></div>
<div class="abs" style="left:192px;top:408px;width:1px;height:292px;background:rgba(0,0,0,0.055)"></div>
<div class="abs" style="left:252px;top:408px;width:1px;height:292px;background:rgba(0,0,0,0.055)"></div>
<div class="abs" style="left:372px;top:408px;width:1px;height:292px;background:rgba(0,0,0,0.055)"></div>
<div class="abs" style="left:432px;top:408px;width:1px;height:292px;background:rgba(0,0,0,0.055)"></div>
<div class="abs" style="left:492px;top:408px;width:1px;height:292px;background:rgba(0,0,0,0.055)"></div>
<div class="abs" style="left:312px;top:409px;width:1px;height:117px;background:#5a5d62"></div>
<div class="abs" style="left:312px;top:528px;width:1px;height:124px;background:#787b80"></div>
<div class="abs" style="left:312px;top:653px;width:1px;height:106px;background:#8a8a8a"></div>
<div class="abs" style="left:612px;top:408px;width:1px;height:292px;background:rgba(0,0,0,0.055)"></div>
<div class="abs" style="left:672px;top:408px;width:1px;height:292px;background:rgba(0,0,0,0.055)"></div>
<div class="abs" style="left:732px;top:408px;width:1px;height:292px;background:rgba(0,0,0,0.055)"></div>
<div class="abs" style="left:552px;top:409px;width:1px;height:117px;background:#5a5d62"></div>
<div class="abs" style="left:552px;top:528px;width:1px;height:124px;background:#787b80"></div>
<div class="abs" style="left:552px;top:653px;width:1px;height:106px;background:#8a8a8a"></div>
<div class="abs" style="left:852px;top:408px;width:1px;height:292px;background:rgba(0,0,0,0.055)"></div>
<div class="abs" style="left:912px;top:408px;width:1px;height:292px;background:rgba(0,0,0,0.055)"></div>
<div class="abs" style="left:972px;top:408px;width:1px;height:292px;background:rgba(0,0,0,0.055)"></div>
<div class="abs" style="left:792px;top:409px;width:1px;height:117px;background:#5a5d62"></div>
<div class="abs" style="left:792px;top:528px;width:1px;height:124px;background:#787b80"></div>
<div class="abs" style="left:792px;top:653px;width:1px;height:106px;background:#8a8a8a"></div>
<div class="abs" style="left:1092px;top:408px;width:1px;height:292px;background:rgba(0,0,0,0.055)"></div>
<div class="abs" style="left:1152px;top:408px;width:1px;height:292px;background:rgba(0,0,0,0.055)"></div>
<div class="abs" style="left:1212px;top:408px;width:1px;height:292px;background:rgba(0,0,0,0.055)"></div>
<div class="abs" style="left:1032px;top:409px;width:1px;height:117px;background:#5a5d62"></div>
<div class="abs" style="left:1032px;top:528px;width:1px;height:124px;background:#787b80"></div>
<div class="abs" style="left:1032px;top:653px;width:1px;height:106px;background:#8a8a8a"></div>
<div class="abs" style="left:1332px;top:408px;width:1px;height:292px;background:rgba(0,0,0,0.055)"></div>
<div class="abs" style="left:1392px;top:408px;width:1px;height:292px;background:rgba(0,0,0,0.055)"></div>
<div class="abs" style="left:1452px;top:408px;width:1px;height:292px;background:rgba(0,0,0,0.055)"></div>
<div class="abs" style="left:1272px;top:409px;width:1px;height:117px;background:#5a5d62"></div>
<div class="abs" style="left:1272px;top:528px;width:1px;height:124px;background:#787b80"></div>
<div class="abs" style="left:1272px;top:653px;width:1px;height:106px;background:#8a8a8a"></div>
<div class="abs" style="left:1572px;top:408px;width:1px;height:292px;background:rgba(0,0,0,0.055)"></div>
<div class="abs" style="left:1632px;top:408px;width:1px;height:292px;background:rgba(0,0,0,0.055)"></div>
<div class="abs" style="left:1692px;top:408px;width:1px;height:292px;background:rgba(0,0,0,0.055)"></div>
<div class="abs" style="left:1512px;top:409px;width:1px;height:117px;background:#5a5d62"></div>
<div class="abs" style="left:1512px;top:528px;width:1px;height:124px;background:#787b80"></div>
<div class="abs" style="left:1512px;top:653px;width:1px;height:106px;background:#8a8a8a"></div>
<div class="abs" style="left:69px;top:408px;width:1px;height:379px;background:#808080"></div>
<div class="abs" style="left:0;top:526px;width:1752px;height:2px;background:#2f5681"></div>
<div class="abs" style="left:0;top:651.5px;width:1752px;height:1.5px;background:#3a6290"></div>
<div class="abs" style="left:0;top:759px;width:1752px;height:1px;background:#4a719b"></div>
<div class="abs" style="left:70px;top:572.5px;width:1682px;height:1px;background:rgba(0,0,0,0.05)"></div>
<div class="lab" style="top:420.6px;font-size:14px;line-height:17px"><b style="color:#4a80b8">HIGH</b><br>(EET)</div>
<div class="lab" style="top:479.6px;font-size:14px;line-height:17px"><b style="color:#158a9a">LOW</b><br>(EET)</div>
<div class="lab" style="top:541px;font-size:14px;line-height:18px;letter-spacing:0.2px">Sun</div>
<svg class="abs" style="left:28px;top:533px" width="14" height="34" viewBox="0 0 14 34"><path d="M7,2.2 L11.2,7.8 L2.8,7.8 Z M7,31 L11.2,25.4 L2.8,25.4 Z" fill="#111"/></svg>
<div class="lab" style="top:583px;font-size:14px;line-height:18px;letter-spacing:0.2px">Moon</div>
<div class="lab" style="top:611px;font-size:14px;line-height:18px;letter-spacing:0.2px">Set</div>
<div class="lab" style="top:631px;font-size:14px;line-height:18px;letter-spacing:0.2px">Rise</div>
<div class="lab" style="top:658px;font-size:14px;line-height:18px;letter-spacing:0.2px">Wind</div>
<div class="lab" style="top:675px;font-size:15px;line-height:18px">(<span style="color:#4a80b8;text-decoration:underline">km/h</span>)</div>
<div class="cell hi" style="left:70.0px;width:60.4px;top:417px"><b>2:32AM</b>0.09m<br>(0.3ft)</div>
<div class="cell hi" style="left:192.1px;width:60.1px;top:417px"><b>5:56PM</b>0.05m<br>(0.16ft)</div>
<div class="cell hi" style="left:312.0px;width:60.0px;top:417px"><b>3:04AM</b>0.09m<br>(0.3ft)</div>
<div class="cell hi" style="left:552.0px;width:60.0px;top:417px"><b>3:28AM</b>0.09m<br>(0.3ft)</div>
<div class="cell hi" style="left:792.0px;width:60.0px;top:417px"><b>4:01AM</b>0.09m<br>(0.3ft)</div>
<div class="cell hi" style="left:1032.0px;width:60.0px;top:417px"><b>4:26AM</b>0.08m<br>(0.26ft)</div>
<div class="cell hi" style="left:1212.0px;width:60.0px;top:417px"><b>9:35PM</b>0.06m<br>(0.2ft)</div>
<div class="cell hi" style="left:1272.0px;width:60.0px;top:417px"><b>4:56AM</b>0.07m<br>(0.23ft)</div>
<div class="cell hi" style="left:1452.0px;width:60.0px;top:417px"><b>9:46PM</b>0.07m<br>(0.23ft)</div>
<div class="cell hi" style="left:1512.0px;width:60.0px;top:417px"><b>5:12AM</b>0.06m<br>(0.2ft)</div>
<div class="cell hi" style="left:1692.0px;width:60.0px;top:417px"><b>10:11PM</b>0.07m<br>(0.23ft)</div>
<div class="cell lo" style="left:130.4px;width:61.7px;top:476px"><b>10:36AM</b>0.01m<br>(0.03ft)</div>
<div class="cell lo" style="left:252.2px;width:59.8px;top:476px"><b>7:33PM</b>0.05m<br>(0.16ft)</div>
<div class="cell lo" style="left:372.0px;width:60.0px;top:476px"><b>11:11AM</b>0.01m<br>(0.03ft)</div>
<div class="cell lo" style="left:612.0px;width:60.0px;top:476px"><b>11:43AM</b>0.01m<br>(0.03ft)</div>
<div class="cell lo" style="left:912.0px;width:60.0px;top:476px"><b>12:14PM</b>0.01m<br>(0.03ft)</div>
<div class="cell lo" style="left:1152.0px;width:60.0px;top:476px"><b>12:50PM</b>0.01m<br>(0.05ft)</div>
<div class="cell lo" style="left:1212.0px;width:60.0px;top:476px"><b>11:22PM</b>0.06m<br>(0.2ft)</div>
<div class="cell lo" style="left:1392.0px;width:60.0px;top:476px"><b>1:20PM</b>0.02m<br>(0.06ft)</div>
<div class="cell lo" style="left:1512.0px;width:60.0px;top:476px"><b>3:36AM</b>0.06m<br>(0.2ft)</div>
<div class="cell lo" style="left:1632.0px;width:60.0px;top:476px"><b>1:54PM</b>0.02m<br>(0.07ft)</div>
<svg class="abs" style="left:149.2px;top:528.0px" width="24" height="24" viewBox="-12 0 24 24" fill="none" stroke="#333" stroke-width="1.3" stroke-linecap="butt"><path d="M-10,18.9 H-3.6 L0,15.9 L3.6,18.9 H10"/><path d="M-5.4,16.3 A5.4,5.4 0 0 1 5.4,16.3"/><path d="M-10,15.8 H-7.2 M7.2,15.8 H10 M0,6.3 V8.7 M-7.1,9.0 L-5.3,10.9 M7.1,9.0 L5.3,10.9"/></svg>
<div class="st" style="left:130.4px;width:61.7px;top:553.5px">7:37AM</div>
<svg class="abs" style="left:210.1px;top:528.0px" width="24" height="24" viewBox="-12 0 24 24" fill="none" stroke="#333" stroke-width="1.3" stroke-linecap="butt"><path d="M-10,19.1 H-3.3 L0,22.1 L3.3,19.1 H10"/><path d="M-5.3,17.2 A5.6,5.6 0 1 1 5.3,17.2"/><path d="M-10,15.8 H-7.2 M7.2,15.8 H10 M0,6.3 V8.7 M-7.1,9.0 L-5.3,10.9 M7.1,9.0 L5.3,10.9"/></svg>
<div class="st" style="left:192.1px;width:60.1px;top:553.5px">5:09PM</div>
<svg class="abs" style="left:390.0px;top:528.0px" width="24" height="24" viewBox="-12 0 24 24" fill="none" stroke="#333" stroke-width="1.3" stroke-linecap="butt"><path d="M-10,18.9 H-3.6 L0,15.9 L3.6,18.9 H10"/><path d="M-5.4,16.3 A5.4,5.4 0 0 1 5.4,16.3"/><path d="M-10,15.8 H-7.2 M7.2,15.8 H10 M0,6.3 V8.7 M-7.1,9.0 L-5.3,10.9 M7.1,9.0 L5.3,10.9"/></svg>
<div class="st" style="left:372.0px;width:60.0px;top:553.5px">7:37AM</div>
<svg class="abs" style="left:450.0px;top:528.0px" width="24" height="24" viewBox="-12 0 24 24" fill="none" stroke="#333" stroke-width="1.3" stroke-linecap="butt"><path d="M-10,19.1 H-3.3 L0,22.1 L3.3,19.1 H10"/><path d="M-5.3,17.2 A5.6,5.6 0 1 1 5.3,17.2"/><path d="M-10,15.8 H-7.2 M7.2,15.8 H10 M0,6.3 V8.7 M-7.1,9.0 L-5.3,10.9 M7.1,9.0 L5.3,10.9"/></svg>
<div class="st" style="left:432.0px;width:60.0px;top:553.5px">5:10PM</div>
<svg class="abs" style="left:630.0px;top:528.0px" width="24" height="24" viewBox="-12 0 24 24" fill="none" stroke="#333" stroke-width="1.3" stroke-linecap="butt"><path d="M-10,18.9 H-3.6 L0,15.9 L3.6,18.9 H10"/><path d="M-5.4,16.3 A5.4,5.4 0 0 1 5.4,16.3"/><path d="M-10,15.8 H-7.2 M7.2,15.8 H10 M0,6.3 V8.7 M-7.1,9.0 L-5.3,10.9 M7.1,9.0 L5.3,10.9"/></svg>
<div class="st" style="left:612.0px;width:60.0px;top:553.5px">7:37AM</div>
<svg class="abs" style="left:690.0px;top:528.0px" width="24" height="24" viewBox="-12 0 24 24" fill="none" stroke="#333" stroke-width="1.3" stroke-linecap="butt"><path d="M-10,19.1 H-3.3 L0,22.1 L3.3,19.1 H10"/><path d="M-5.3,17.2 A5.6,5.6 0 1 1 5.3,17.2"/><path d="M-10,15.8 H-7.2 M7.2,15.8 H10 M0,6.3 V8.7 M-7.1,9.0 L-5.3,10.9 M7.1,9.0 L5.3,10.9"/></svg>
<div class="st" style="left:672.0px;width:60.0px;top:553.5px">5:10PM</div>
<svg class="abs" style="left:870.0px;top:528.0px" width="24" height="24" viewBox="-12 0 24 24" fill="none" stroke="#333" stroke-width="1.3" stroke-linecap="butt"><path d="M-10,18.9 H-3.6 L0,15.9 L3.6,18.9 H10"/><path d="M-5.4,16.3 A5.4,5.4 0 0 1 5.4,16.3"/><path d="M-10,15.8 H-7.2 M7.2,15.8 H10 M0,6.3 V8.7 M-7.1,9.0 L-5.3,10.9 M7.1,9.0 L5.3,10.9"/></svg>
<div class="st" style="left:852.0px;width:60.0px;top:553.5px">7:38AM</div>
<svg class="abs" style="left:930.0px;top:528.0px" width="24" height="24" viewBox="-12 0 24 24" fill="none" stroke="#333" stroke-width="1.3" stroke-linecap="butt"><path d="M-10,19.1 H-3.3 L0,22.1 L3.3,19.1 H10"/><path d="M-5.3,17.2 A5.6,5.6 0 1 1 5.3,17.2"/><path d="M-10,15.8 H-7.2 M7.2,15.8 H10 M0,6.3 V8.7 M-7.1,9.0 L-5.3,10.9 M7.1,9.0 L5.3,10.9"/></svg>
<div class="st" style="left:912.0px;width:60.0px;top:553.5px">5:11PM</div>
<svg class="abs" style="left:1110.0px;top:528.0px" width="24" height="24" viewBox="-12 0 24 24" fill="none" stroke="#333" stroke-width="1.3" stroke-linecap="butt"><path d="M-10,18.9 H-3.6 L0,15.9 L3.6,18.9 H10"/><path d="M-5.4,16.3 A5.4,5.4 0 0 1 5.4,16.3"/><path d="M-10,15.8 H-7.2 M7.2,15.8 H10 M0,6.3 V8.7 M-7.1,9.0 L-5.3,10.9 M7.1,9.0 L5.3,10.9"/></svg>
<div class="st" style="left:1092.0px;width:60.0px;top:553.5px">7:38AM</div>
<svg class="abs" style="left:1170.0px;top:528.0px" width="24" height="24" viewBox="-12 0 24 24" fill="none" stroke="#333" stroke-width="1.3" stroke-linecap="butt"><path d="M-10,19.1 H-3.3 L0,22.1 L3.3,19.1 H10"/><path d="M-5.3,17.2 A5.6,5.6 0 1 1 5.3,17.2"/><path d="M-10,15.8 H-7.2 M7.2,15.8 H10 M0,6.3 V8.7 M-7.1,9.0 L-5.3,10.9 M7.1,9.0 L5.3,10.9"/></svg>
<div class="st" style="left:1152.0px;width:60.0px;top:553.5px">5:11PM</div>
<svg class="abs" style="left:1350.0px;top:528.0px" width="24" height="24" viewBox="-12 0 24 24" fill="none" stroke="#333" stroke-width="1.3" stroke-linecap="butt"><path d="M-10,18.9 H-3.6 L0,15.9 L3.6,18.9 H10"/><path d="M-5.4,16.3 A5.4,5.4 0 0 1 5.4,16.3"/><path d="M-10,15.8 H-7.2 M7.2,15.8 H10 M0,6.3 V8.7 M-7.1,9.0 L-5.3,10.9 M7.1,9.0 L5.3,10.9"/></svg>
<div class="st" style="left:1332.0px;width:60.0px;top:553.5px">7:39AM</div>
<svg class="abs" style="left:1410.0px;top:528.0px" width="24" height="24" viewBox="-12 0 24 24" fill="none" stroke="#333" stroke-width="1.3" stroke-linecap="butt"><path d="M-10,19.1 H-3.3 L0,22.1 L3.3,19.1 H10"/><path d="M-5.3,17.2 A5.6,5.6 0 1 1 5.3,17.2"/><path d="M-10,15.8 H-7.2 M7.2,15.8 H10 M0,6.3 V8.7 M-7.1,9.0 L-5.3,10.9 M7.1,9.0 L5.3,10.9"/></svg>
<div class="st" style="left:1392.0px;width:60.0px;top:553.5px">5:12PM</div>
<svg class="abs" style="left:1590.0px;top:528.0px" width="24" height="24" viewBox="-12 0 24 24" fill="none" stroke="#333" stroke-width="1.3" stroke-linecap="butt"><path d="M-10,18.9 H-3.6 L0,15.9 L3.6,18.9 H10"/><path d="M-5.4,16.3 A5.4,5.4 0 0 1 5.4,16.3"/><path d="M-10,15.8 H-7.2 M7.2,15.8 H10 M0,6.3 V8.7 M-7.1,9.0 L-5.3,10.9 M7.1,9.0 L5.3,10.9"/></svg>
<div class="st" style="left:1572.0px;width:60.0px;top:553.5px">7:39AM</div>
<svg class="abs" style="left:1650.0px;top:528.0px" width="24" height="24" viewBox="-12 0 24 24" fill="none" stroke="#333" stroke-width="1.3" stroke-linecap="butt"><path d="M-10,19.1 H-3.3 L0,22.1 L3.3,19.1 H10"/><path d="M-5.3,17.2 A5.6,5.6 0 1 1 5.3,17.2"/><path d="M-10,15.8 H-7.2 M7.2,15.8 H10 M0,6.3 V8.7 M-7.1,9.0 L-5.3,10.9 M7.1,9.0 L5.3,10.9"/></svg>
<div class="st" style="left:1632.0px;width:60.0px;top:553.5px">5:13PM</div>
<svg class="abs" style="left:150.9px;top:579.7px" width="24" height="24" viewBox="-12 -12 24 24"><circle r="9.7" fill="#fff"/><path d="M0,9.7 A9.7,9.7 0 0 1 0,-9.7 A7.76,9.7 0 0 1 0,9.7 Z" fill="#999" stroke="#111" stroke-width="0.9"/><circle r="9.7" fill="none" stroke="#111" stroke-width="1.1"/></svg>
<svg class="abs" style="left:149.2px;top:611.0px" width="24" height="20" viewBox="-12 0 24 20" fill="none" stroke="#333" stroke-width="1.2"><path d="M-9.8,14.3 H-3.4 L0,11.8 L3.4,14.3 H9.8"/><path d="M-6.1,13 A6.7,6.7 0 1 1 6.1,13"/></svg>
<div class="st" style="left:130.4px;width:61.7px;top:632.5px">8:57AM</div>
<svg class="abs" style="left:271.8px;top:579.7px" width="24" height="24" viewBox="-12 -12 24 24"><circle r="9.7" fill="#fff"/><path d="M0,9.7 A9.7,9.7 0 0 1 0,-9.7 A7.18,9.7 0 0 1 0,9.7 Z" fill="#999" stroke="#111" stroke-width="0.9"/><circle r="9.7" fill="none" stroke="#111" stroke-width="1.1"/></svg>
<svg class="abs" style="left:270.1px;top:611.0px" width="24" height="20" viewBox="-12 0 24 20" fill="none" stroke="#333" stroke-width="1.2"><path d="M-9.8,14.3 H-3.2 L0,17.2 L3.2,14.3 H9.8"/><path d="M-6.2,13.2 A6.9,6.9 0 1 1 6.2,13.2"/></svg>
<div class="st" style="left:252.2px;width:59.8px;top:632.5px">6:12PM</div>
<svg class="abs" style="left:391.7px;top:579.7px" width="24" height="24" viewBox="-12 -12 24 24"><circle r="9.7" fill="#fff"/><path d="M0,9.7 A9.7,9.7 0 0 1 0,-9.7 A6.60,9.7 0 0 1 0,9.7 Z" fill="#999" stroke="#111" stroke-width="0.9"/><circle r="9.7" fill="none" stroke="#111" stroke-width="1.1"/></svg>
<svg class="abs" style="left:390.0px;top:611.0px" width="24" height="20" viewBox="-12 0 24 20" fill="none" stroke="#333" stroke-width="1.2"><path d="M-9.8,14.3 H-3.4 L0,11.8 L3.4,14.3 H9.8"/><path d="M-6.1,13 A6.7,6.7 0 1 1 6.1,13"/></svg>
<div class="st" style="left:372.0px;width:60.0px;top:632.5px">9:38AM</div>
<svg class="abs" style="left:511.7px;top:579.7px" width="24" height="24" viewBox="-12 -12 24 24"><circle r="9.7" fill="#fff"/><path d="M0,9.7 A9.7,9.7 0 0 1 0,-9.7 A6.01,9.7 0 0 1 0,9.7 Z" fill="#999" stroke="#111" stroke-width="0.9"/><circle r="9.7" fill="none" stroke="#111" stroke-width="1.1"/></svg>
<svg class="abs" style="left:510.0px;top:611.0px" width="24" height="20" viewBox="-12 0 24 20" fill="none" stroke="#333" stroke-width="1.2"><path d="M-9.8,14.3 H-3.2 L0,17.2 L3.2,14.3 H9.8"/><path d="M-6.2,13.2 A6.9,6.9 0 1 1 6.2,13.2"/></svg>
<div class="st" style="left:492.0px;width:60.0px;top:632.5px">7:15PM</div>
<svg class="abs" style="left:631.7px;top:579.7px" width="24" height="24" viewBox="-12 -12 24 24"><circle r="9.7" fill="#fff"/><path d="M0,9.7 A9.7,9.7 0 0 1 0,-9.7 A5.43,9.7 0 0 1 0,9.7 Z" fill="#999" stroke="#111" stroke-width="0.9"/><circle r="9.7" fill="none" stroke="#111" stroke-width="1.1"/></svg>
<svg class="abs" style="left:630.0px;top:611.0px" width="24" height="20" viewBox="-12 0 24 20" fill="none" stroke="#333" stroke-width="1.2"><path d="M-9.8,14.3 H-3.4 L0,11.8 L3.4,14.3 H9.8"/><path d="M-6.1,13 A6.7,6.7 0 1 1 6.1,13"/></svg>
<div class="st" style="left:612.0px;width:60.0px;top:632.5px">10:12AM</div>
<svg class="abs" style="left:751.7px;top:579.7px" width="24" height="24" viewBox="-12 -12 24 24"><circle r="9.7" fill="#fff"/><path d="M0,9.7 A9.7,9.7 0 0 1 0,-9.7 A4.66,9.7 0 0 1 0,9.7 Z" fill="#999" stroke="#111" stroke-width="0.9"/><circle r="9.7" fill="none" stroke="#111" stroke-width="1.1"/></svg>
<svg class="abs" style="left:750.0px;top:611.0px" width="24" height="20" viewBox="-12 0 24 20" fill="none" stroke="#333" stroke-width="1.2"><path d="M-9.8,14.3 H-3.2 L0,17.2 L3.2,14.3 H9.8"/><path d="M-6.2,13.2 A6.9,6.9 0 1 1 6.2,13.2"/></svg>
<div class="st" style="left:732.0px;width:60.0px;top:632.5px">8:20PM</div>
<svg class="abs" style="left:871.7px;top:579.7px" width="24" height="24" viewBox="-12 -12 24 24"><circle r="9.7" fill="#fff"/><path d="M0,9.7 A9.7,9.7 0 0 1 0,-9.7 A3.88,9.7 0 0 1 0,9.7 Z" fill="#999" stroke="#111" stroke-width="0.9"/><circle r="9.7" fill="none" stroke="#111" stroke-width="1.1"/></svg>
<svg class="abs" style="left:870.0px;top:611.0px" width="24" height="20" viewBox="-12 0 24 20" fill="none" stroke="#333" stroke-width="1.2"><path d="M-9.8,14.3 H-3.4 L0,11.8 L3.4,14.3 H9.8"/><path d="M-6.1,13 A6.7,6.7 0 1 1 6.1,13"/></svg>
<div class="st" style="left:852.0px;width:60.0px;top:632.5px">10:41AM</div>
<svg class="abs" style="left:991.7px;top:579.7px" width="24" height="24" viewBox="-12 -12 24 24"><circle r="9.7" fill="#fff"/><path d="M0,9.7 A9.7,9.7 0 0 1 0,-9.7 A2.91,9.7 0 0 1 0,9.7 Z" fill="#999" stroke="#111" stroke-width="0.9"/><circle r="9.7" fill="none" stroke="#111" stroke-width="1.1"/></svg>
<svg class="abs" style="left:990.0px;top:611.0px" width="24" height="20" viewBox="-12 0 24 20" fill="none" stroke="#333" stroke-width="1.2"><path d="M-9.8,14.3 H-3.2 L0,17.2 L3.2,14.3 H9.8"/><path d="M-6.2,13.2 A6.9,6.9 0 1 1 6.2,13.2"/></svg>
<div class="st" style="left:972.0px;width:60.0px;top:632.5px">9:25PM</div>
<svg class="abs" style="left:1111.7px;top:579.7px" width="24" height="24" viewBox="-12 -12 24 24"><circle r="9.7" fill="#fff"/><path d="M0,9.7 A9.7,9.7 0 0 1 0,-9.7 A1.94,9.7 0 0 1 0,9.7 Z" fill="#999" stroke="#111" stroke-width="0.9"/><circle r="9.7" fill="none" stroke="#111" stroke-width="1.1"/></svg>
<svg class="abs" style="left:1110.0px;top:611.0px" width="24" height="20" viewBox="-12 0 24 20" fill="none" stroke="#333" stroke-width="1.2"><path d="M-9.8,14.3 H-3.4 L0,11.8 L3.4,14.3 H9.8"/><path d="M-6.1,13 A6.7,6.7 0 1 1 6.1,13"/></svg>
<div class="st" style="left:1092.0px;width:60.0px;top:632.5px">11:07AM</div>
<svg class="abs" style="left:1231.7px;top:579.7px" width="24" height="24" viewBox="-12 -12 24 24"><circle r="9.7" fill="#fff"/><path d="M0,9.7 A9.7,9.7 0 0 1 0,-9.7 A0.97,9.7 0 0 1 0,9.7 Z" fill="#999" stroke="#111" stroke-width="0.9"/><circle r="9.7" fill="none" stroke="#111" stroke-width="1.1"/></svg>
<svg class="abs" style="left:1230.0px;top:611.0px" width="24" height="20" viewBox="-12 0 24 20" fill="none" stroke="#333" stroke-width="1.2"><path d="M-9.8,14.3 H-3.2 L0,17.2 L3.2,14.3 H9.8"/><path d="M-6.2,13.2 A6.9,6.9 0 1 1 6.2,13.2"/></svg>
<div class="st" style="left:1212.0px;width:60.0px;top:632.5px">10:29PM</div>
<svg class="abs" style="left:1351.7px;top:579.7px" width="24" height="24" viewBox="-12 -12 24 24"><circle r="9.7" fill="#fff"/><path d="M0,9.7 A9.7,9.7 0 0 1 0,-9.7 A0.39,9.7 0 0 1 0,9.7 Z" fill="#999" stroke="#111" stroke-width="0.9"/><circle r="9.7" fill="none" stroke="#111" stroke-width="1.1"/></svg>
<svg class="abs" style="left:1350.0px;top:611.0px" width="24" height="20" viewBox="-12 0 24 20" fill="none" stroke="#333" stroke-width="1.2"><path d="M-9.8,14.3 H-3.4 L0,11.8 L3.4,14.3 H9.8"/><path d="M-6.1,13 A6.7,6.7 0 1 1 6.1,13"/></svg>
<div class="st" style="left:1332.0px;width:60.0px;top:632.5px">11:32AM</div>
<svg class="abs" style="left:1471.7px;top:579.7px" width="24" height="24" viewBox="-12 -12 24 24"><circle r="9.7" fill="#fff"/><path d="M0,9.7 A9.7,9.7 0 0 1 0,-9.7 A0.00,9.7 0 0 0 0,9.7 Z" fill="#999" stroke="#111" stroke-width="0.9"/><circle r="9.7" fill="none" stroke="#111" stroke-width="1.1"/></svg>
<svg class="abs" style="left:1470.0px;top:611.0px" width="24" height="20" viewBox="-12 0 24 20" fill="none" stroke="#333" stroke-width="1.2"><path d="M-9.8,14.3 H-3.2 L0,17.2 L3.2,14.3 H9.8"/><path d="M-6.2,13.2 A6.9,6.9 0 1 1 6.2,13.2"/></svg>
<div class="st" style="left:1452.0px;width:60.0px;top:632.5px">11:35PM</div>
<svg class="abs" style="left:1591.7px;top:579.7px" width="24" height="24" viewBox="-12 -12 24 24"><circle r="9.7" fill="#fff"/><path d="M0,9.7 A9.7,9.7 0 0 1 0,-9.7 A0.97,9.7 0 0 0 0,9.7 Z" fill="#999" stroke="#111" stroke-width="0.9"/><circle r="9.7" fill="none" stroke="#111" stroke-width="1.1"/></svg>
<svg class="abs" style="left:1590.0px;top:611.0px" width="24" height="20" viewBox="-12 0 24 20" fill="none" stroke="#333" stroke-width="1.2"><path d="M-9.8,14.3 H-3.4 L0,11.8 L3.4,14.3 H9.8"/><path d="M-6.1,13 A6.7,6.7 0 1 1 6.1,13"/></svg>
<div class="st" style="left:1572.0px;width:60.0px;top:632.5px">11:55AM</div>
<svg class="abs" style="left:78.2px;top:654.0px;overflow:visible" width="44" height="44" viewBox="-22 -22 44 44"><g transform="rotate(0.0)"><rect x="-1.9" y="8" width="3.8" height="6.5" fill="#000"/><path d="M-6.7,13.7 H6.7 L0,19.4 Z" fill="#000"/></g><circle r="10.3" fill="#000"/><text x="0" y="4.7" text-anchor="middle" font-family="Liberation Sans, sans-serif" font-size="14.2" letter-spacing="-1.2" fill="#fff" dx="-0.6">10</text></svg>
<svg class="abs" style="left:139.2px;top:654.0px;overflow:visible" width="44" height="44" viewBox="-22 -22 44 44"><g transform="rotate(0.0)"><rect x="-1.9" y="8" width="3.8" height="6.5" fill="#000"/><path d="M-6.7,13.7 H6.7 L0,19.4 Z" fill="#000"/></g><circle r="10.3" fill="#000"/><text x="0" y="4.7" text-anchor="middle" font-family="Liberation Sans, sans-serif" font-size="14.2" letter-spacing="-1.2" fill="#fff" dx="-0.6">10</text></svg>
<svg class="abs" style="left:200.1px;top:654.0px;overflow:visible" width="44" height="44" viewBox="-22 -22 44 44"><g transform="rotate(22.5)"><rect x="-1.9" y="8" width="3.8" height="6.5" fill="#000"/><path d="M-6.7,13.7 H6.7 L0,19.4 Z" fill="#000"/></g><circle r="10.3" fill="#000"/><text x="0" y="4.7" text-anchor="middle" font-family="Liberation Sans, sans-serif" font-size="14.2" letter-spacing="-1.2" fill="#fff" dx="-0.6">15</text></svg>
<svg class="abs" style="left:260.1px;top:654.0px;overflow:visible" width="44" height="44" viewBox="-22 -22 44 44"><g transform="rotate(0.0)"><rect x="-1.9" y="8" width="3.8" height="6.5" fill="#000"/><path d="M-6.7,13.7 H6.7 L0,19.4 Z" fill="#000"/></g><circle r="10.3" fill="#000"/><text x="0" y="4.7" text-anchor="middle" font-family="Liberation Sans, sans-serif" font-size="14.2" letter-spacing="-1.2" fill="#fff" dx="-0.6">10</text></svg>
<svg class="abs" style="left:320.0px;top:654.0px;overflow:visible" width="44" height="44" viewBox="-22 -22 44 44"><g transform="rotate(0.0)"><rect x="-1.9" y="8" width="3.8" height="6.5" fill="#000"/><path d="M-6.7,13.7 H6.7 L0,19.4 Z" fill="#000"/></g><circle r="10.3" fill="#000"/><text x="0" y="4.7" text-anchor="middle" font-family="Liberation Sans, sans-serif" font-size="14.2" letter-spacing="-1.2" fill="#fff" dx="-0.6">10</text></svg>
<svg class="abs" style="left:380.0px;top:654.0px;overflow:visible" width="44" height="44" viewBox="-22 -22 44 44"><g transform="rotate(0.0)"><rect x="-1.9" y="8" width="3.8" height="6.5" fill="#000"/><path d="M-6.7,13.7 H6.7 L0,19.4 Z" fill="#000"/></g><circle r="10.3" fill="#000"/><text x="0" y="4.7" text-anchor="middle" font-family="Liberation Sans, sans-serif" font-size="14.2" letter-spacing="-1.2" fill="#fff" dx="-0.6">15</text></svg>
<svg class="abs" style="left:440.0px;top:654.0px;overflow:visible" width="44" height="44" viewBox="-22 -22 44 44"><g transform="rotate(0.0)"><rect x="-1.9" y="8" width="3.8" height="6.5" fill="#000"/><path d="M-6.7,13.7 H6.7 L0,19.4 Z" fill="#000"/></g><circle r="10.3" fill="#000"/><text x="0" y="4.7" text-anchor="middle" font-family="Liberation Sans, sans-serif" font-size="14.2" letter-spacing="-1.2" fill="#fff" dx="-0.6">15</text></svg>
<svg class="abs" style="left:500.0px;top:654.0px;overflow:visible" width="44" height="44" viewBox="-22 -22 44 44"><g transform="rotate(-22.5)"><rect x="-1.9" y="8" width="3.8" height="6.5" fill="#000"/><path d="M-6.7,13.7 H6.7 L0,19.4 Z" fill="#000"/></g><circle r="10.3" fill="#000"/><text x="0" y="4.7" text-anchor="middle" font-family="Liberation Sans, sans-serif" font-size="14.2" letter-spacing="-1.2" fill="#fff" dx="-0.6">10</text></svg>
<svg class="abs" style="left:560.0px;top:654.0px;overflow:visible" width="44" height="44" viewBox="-22 -22 44 44"><g transform="rotate(-22.5)"><rect x="-1.9" y="8" width="3.8" height="6.5" fill="#000"/><path d="M-6.7,13.7 H6.7 L0,19.4 Z" fill="#000"/></g><circle r="10.3" fill="#000"/><text x="0" y="4.7" text-anchor="middle" font-family="Liberation Sans, sans-serif" font-size="14.2" letter-spacing="-1.2" fill="#fff" dx="-0.6">10</text></svg>
<svg class="abs" style="left:620.0px;top:654.0px;overflow:visible" width="44" height="44" viewBox="-22 -22 44 44"><g transform="rotate(0.0)"><rect x="-1.9" y="8" width="3.8" height="6.5" fill="#000"/><path d="M-6.7,13.7 H6.7 L0,19.4 Z" fill="#000"/></g><circle r="10.3" fill="#000"/><text x="0" y="4.7" text-anchor="middle" font-family="Liberation Sans, sans-serif" font-size="14.2" letter-spacing="-1.2" fill="#fff" dx="-0.6">10</text></svg>
<svg class="abs" style="left:680.0px;top:654.0px;overflow:visible" width="44" height="44" viewBox="-22 -22 44 44"><g transform="rotate(22.5)"><rect x="-1.9" y="8" width="3.8" height="6.5" fill="#000"/><path d="M-6.7,13.7 H6.7 L0,19.4 Z" fill="#000"/></g><circle r="10.3" fill="#000"/><text x="0" y="4.7" text-anchor="middle" font-family="Liberation Sans, sans-serif" font-size="14.2" letter-spacing="-1.2" fill="#fff" dx="-0.6">10</text></svg>
<svg class="abs" style="left:740.0px;top:654.0px;overflow:visible" width="44" height="44" viewBox="-22 -22 44 44"><g transform="rotate(67.5)"><rect x="-1.9" y="8" width="3.8" height="6.5" fill="#000"/><path d="M-6.7,13.7 H6.7 L0,19.4 Z" fill="#000"/></g><circle r="10.3" fill="#000"/><text x="0" y="4.7" text-anchor="middle" font-family="Liberation Sans, sans-serif" font-size="14.2" letter-spacing="-1.2" fill="#fff" dx="-0.6">5</text></svg>
<svg class="abs" style="left:800.0px;top:654.0px;overflow:visible" width="44" height="44" viewBox="-22 -22 44 44"><g transform="rotate(67.5)"><rect x="-1.9" y="8" width="3.8" height="6.5" fill="#000"/><path d="M-6.7,13.7 H6.7 L0,19.4 Z" fill="#000"/></g><circle r="10.3" fill="#000"/><text x="0" y="4.7" text-anchor="middle" font-family="Liberation Sans, sans-serif" font-size="14.2" letter-spacing="-1.2" fill="#fff" dx="-0.6">5</text></svg>
<svg class="abs" style="left:860.0px;top:654.0px;overflow:visible" width="44" height="44" viewBox="-22 -22 44 44"><g transform="rotate(135.0)"><rect x="-1.9" y="8" width="3.8" height="6.5" fill="#000"/><path d="M-6.7,13.7 H6.7 L0,19.4 Z" fill="#000"/></g><circle r="10.3" fill="#000"/><text x="0" y="4.7" text-anchor="middle" font-family="Liberation Sans, sans-serif" font-size="14.2" letter-spacing="-1.2" fill="#fff" dx="-0.6">10</text></svg>
<svg class="abs" style="left:920.0px;top:654.0px;overflow:visible" width="44" height="44" viewBox="-22 -22 44 44"><g transform="rotate(157.5)"><rect x="-1.9" y="8" width="3.8" height="6.5" fill="#000"/><path d="M-6.7,13.7 H6.7 L0,19.4 Z" fill="#000"/></g><circle r="10.3" fill="#000"/><text x="0" y="4.7" text-anchor="middle" font-family="Liberation Sans, sans-serif" font-size="14.2" letter-spacing="-1.2" fill="#fff" dx="-0.6">10</text></svg>
<svg class="abs" style="left:980.0px;top:654.0px;overflow:visible" width="44" height="44" viewBox="-22 -22 44 44"><g transform="rotate(-67.5)"><rect x="-1.9" y="8" width="3.8" height="6.5" fill="#000"/><path d="M-6.7,13.7 H6.7 L0,19.4 Z" fill="#000"/></g><circle r="10.3" fill="#000"/><text x="0" y="4.7" text-anchor="middle" font-family="Liberation Sans, sans-serif" font-size="14.2" letter-spacing="-1.2" fill="#fff" dx="-0.6">5</text></svg>
<svg class="abs" style="left:1040.0px;top:654.0px;overflow:visible" width="44" height="44" viewBox="-22 -22 44 44"><g transform="rotate(-67.5)"><rect x="-1.9" y="8" width="3.8" height="6.5" fill="#000"/><path d="M-6.7,13.7 H6.7 L0,19.4 Z" fill="#000"/></g><circle r="10.3" fill="#000"/><text x="0" y="4.7" text-anchor="middle" font-family="Liberation Sans, sans-serif" font-size="14.2" letter-spacing="-1.2" fill="#fff" dx="-0.6">5</text></svg>
<svg class="abs" style="left:1100.0px;top:654.0px;overflow:visible" width="44" height="44" viewBox="-22 -22 44 44"><g transform="rotate(67.5)"><rect x="-1.9" y="8" width="3.8" height="6.5" fill="#000"/><path d="M-6.7,13.7 H6.7 L0,19.4 Z" fill="#000"/></g><circle r="10.3" fill="#000"/><text x="0" y="4.7" text-anchor="middle" font-family="Liberation Sans, sans-serif" font-size="14.2" letter-spacing="-1.2" fill="#fff" dx="-0.6">5</text></svg>
<svg class="abs" style="left:1160.0px;top:654.0px;overflow:visible" width="44" height="44" viewBox="-22 -22 44 44"><g transform="rotate(45.0)"><rect x="-1.9" y="8" width="3.8" height="6.5" fill="#000"/><path d="M-6.7,13.7 H6.7 L0,19.4 Z" fill="#000"/></g><circle r="10.3" fill="#000"/><text x="0" y="4.7" text-anchor="middle" font-family="Liberation Sans, sans-serif" font-size="14.2" letter-spacing="-1.2" fill="#fff" dx="-0.6">10</text></svg>
<svg class="abs" style="left:1220.0px;top:654.0px;overflow:visible" width="44" height="44" viewBox="-22 -22 44 44"><g transform="rotate(22.5)"><rect x="-1.9" y="8" width="3.8" height="6.5" fill="#000"/><path d="M-6.7,13.7 H6.7 L0,19.4 Z" fill="#000"/></g><circle r="10.3" fill="#000"/><text x="0" y="4.7" text-anchor="middle" font-family="Liberation Sans, sans-serif" font-size="14.2" letter-spacing="-1.2" fill="#fff" dx="-0.6">15</text></svg>
<svg class="abs" style="left:1280.0px;top:654.0px;overflow:visible" width="44" height="44" viewBox="-22 -22 44 44"><g transform="rotate(22.5)"><rect x="-1.9" y="8" width="3.8" height="6.5" fill="#000"/><path d="M-6.7,13.7 H6.7 L0,19.4 Z" fill="#000"/></g><circle r="10.3" fill="#000"/><text x="0" y="4.7" text-anchor="middle" font-family="Liberation Sans, sans-serif" font-size="14.2" letter-spacing="-1.2" fill="#fff" dx="-0.6">15</text></svg>
<svg class="abs" style="left:1340.0px;top:654.0px;overflow:visible" width="44" height="44" viewBox="-22 -22 44 44"><g transform="rotate(22.5)"><rect x="-1.9" y="8" width="3.8" height="6.5" fill="#000"/><path d="M-6.7,13.7 H6.7 L0,19.4 Z" fill="#000"/></g><circle r="10.3" fill="#000"/><text x="0" y="4.7" text-anchor="middle" font-family="Liberation Sans, sans-serif" font-size="14.2" letter-spacing="-1.2" fill="#fff" dx="-0.6">15</text></svg>
<svg class="abs" style="left:1400.0px;top:654.0px;overflow:visible" width="44" height="44" viewBox="-22 -22 44 44"><g transform="rotate(22.5)"><rect x="-1.9" y="8" width="3.8" height="6.5" fill="#000"/><path d="M-6.7,13.7 H6.7 L0,19.4 Z" fill="#000"/></g><circle r="10.3" fill="#000"/><text x="0" y="4.7" text-anchor="middle" font-family="Liberation Sans, sans-serif" font-size="14.2" letter-spacing="-1.2" fill="#2fe02f" dx="-0.6">20</text></svg>
<svg class="abs" style="left:1460.0px;top:654.0px;overflow:visible" width="44" height="44" viewBox="-22 -22 44 44"><g transform="rotate(22.5)"><rect x="-1.9" y="8" width="3.8" height="6.5" fill="#000"/><path d="M-6.7,13.7 H6.7 L0,19.4 Z" fill="#000"/></g><circle r="10.3" fill="#000"/><text x="0" y="4.7" text-anchor="middle" font-family="Liberation Sans, sans-serif" font-size="14.2" letter-spacing="-1.2" fill="#fff" dx="-0.6">15</text></svg>
<svg class="abs" style="left:1520.0px;top:654.0px;overflow:visible" width="44" height="44" viewBox="-22 -22 44 44"><g transform="rotate(22.5)"><rect x="-1.9" y="8" width="3.8" height="6.5" fill="#000"/><path d="M-6.7,13.7 H6.7 L0,19.4 Z" fill="#000"/></g><circle r="10.3" fill="#000"/><text x="0" y="4.7" text-anchor="middle" font-family="Liberation Sans, sans-serif" font-size="14.2" letter-spacing="-1.2" fill="#fff" dx="-0.6">15</text></svg>
<svg class="abs" style="left:1580.0px;top:654.0px;overflow:visible" width="44" height="44" viewBox="-22 -22 44 44"><g transform="rotate(22.5)"><rect x="-1.9" y="8" width="3.8" height="6.5" fill="#000"/><path d="M-6.7,13.7 H6.7 L0,19.4 Z" fill="#000"/></g><circle r="10.3" fill="#000"/><text x="0" y="4.7" text-anchor="middle" font-family="Liberation Sans, sans-serif" font-size="14.2" letter-spacing="-1.2" fill="#2fe02f" dx="-0.6">20</text></svg>
<svg class="abs" style="left:1640.0px;top:654.0px;overflow:visible" width="44" height="44" viewBox="-22 -22 44 44"><g transform="rotate(22.5)"><rect x="-1.9" y="8" width="3.8" height="6.5" fill="#000"/><path d="M-6.7,13.7 H6.7 L0,19.4 Z" fill="#000"/></g><circle r="10.3" fill="#000"/><text x="0" y="4.7" text-anchor="middle" font-family="Liberation Sans, sans-serif" font-size="14.2" letter-spacing="-1.2" fill="#2fe02f" dx="-0.6">20</text></svg>
<svg class="abs" style="left:1700.0px;top:654.0px;overflow:visible" width="44" height="44" viewBox="-22 -22 44 44"><g transform="rotate(22.5)"><rect x="-1.9" y="8" width="3.8" height="6.5" fill="#000"/><path d="M-6.7,13.7 H6.7 L0,19.4 Z" fill="#000"/></g><circle r="10.3" fill="#000"/><text x="0" y="4.7" text-anchor="middle" font-family="Liberation Sans, sans-serif" font-size="14.2" letter-spacing="-1.2" fill="#2fe02f" dx="-0.6">25</text></svg>
<svg width="0" height="0" style="position:absolute"><defs><linearGradient id="sky" x1="0" y1="0" x2="0" y2="1"><stop offset="0" stop-color="#6070ad"/><stop offset="0.5" stop-color="#8d99c6"/><stop offset="1" stop-color="#b7bfdc"/></linearGradient><linearGradient id="gsky" x1="0" y1="0" x2="0" y2="1"><stop offset="0" stop-color="#687280"/><stop offset="0.25" stop-color="#858c98"/><stop offset="0.6" stop-color="#b0b1b8"/><stop offset="1" stop-color="#d7d7db"/></linearGradient><radialGradient id="sung" cx="0.5" cy="0.55" r="0.55"><stop offset="0" stop-color="#fae47e"/><stop offset="1" stop-color="#f0cb42"/></radialGradient><linearGradient id="moong" x1="0" y1="0" x2="1" y2="0.35"><stop offset="0" stop-color="#eeefb8"/><stop offset="0.65" stop-color="#e9eab0"/><stop offset="1" stop-color="#c4c58a"/></linearGradient><filter id="bl" x="-30%" y="-30%" width="160%" height="160%"><feGaussianBlur stdDeviation="1.0"/></filter><filter id="bl2" x="-30%" y="-30%" width="160%" height="160%"><feGaussianBlur stdDeviation="0.5"/></filter><g id="ocg"><linearGradient id="g1" gradientUnits="userSpaceOnUse" x1="0" y1="3.3" x2="0" y2="20.0"><stop offset="0.00" stop-color="#f0f1f7"/><stop offset="0.50" stop-color="#e4e5ec"/><stop offset="1.00" stop-color="#b9bbc3"/></linearGradient><path d="M-1.00,12.00 A4.20,4.20 0 0 1 6.50,9.00 A6.20,6.20 0 0 1 18.00,8.30 A4.30,4.30 0 0 1 26.00,8.60 A2.80,2.80 0 0 1 30.50,11.80 L31,20 L-1,20 Z" fill="url(#g1)" stroke="#dfe0e6" stroke-width="0.30"/><linearGradient id="g2" gradientUnits="userSpaceOnUse" x1="0" y1="3.5" x2="0" y2="20.0"><stop offset="0.00" stop-color="#f0f1f7"/><stop offset="0.50" stop-color="#e4e5ec"/><stop offset="1.00" stop-color="#b9bbc3"/></linearGradient><path d="M40.00,10.50 A5.80,5.80 0 0 1 51.00,8.20 A5.00,5.00 0 0 1 60.00,5.50 L60,20 L40,20 Z" fill="url(#g2)" stroke="#dfe0e6" stroke-width="0.30"/><linearGradient id="g3" gradientUnits="userSpaceOnUse" x1="0" y1="11.5" x2="0" y2="30.8"><stop offset="0.00" stop-color="#eff0f6"/><stop offset="0.27" stop-color="#dedfe6"/><stop offset="0.45" stop-color="#b4b6bd"/><stop offset="0.68" stop-color="#888a91"/><stop offset="1.00" stop-color="#696b71"/></linearGradient><path d="M-1.00,15.00 A8.60,8.60 0 0 1 15.20,14.20 A6.00,6.00 0 0 1 26.50,16.00 L30,31 L-1,31 Z" fill="url(#g3)" stroke="#85878e" stroke-width="0.40"/><path d="M-1,24 Q3,18.5 7,22 Q10,25 12,24 L20,31 L-1,31 Z" fill="#4d4f56" fill-opacity="0.26"/><linearGradient id="g4" gradientUnits="userSpaceOnUse" x1="0" y1="8.4" x2="0" y2="27.0"><stop offset="0.00" stop-color="#eff0f6"/><stop offset="0.27" stop-color="#dedfe6"/><stop offset="0.45" stop-color="#b4b6bd"/><stop offset="0.68" stop-color="#888a91"/><stop offset="1.00" stop-color="#696b71"/></linearGradient><path d="M24.50,14.20 A3.60,3.60 0 0 1 30.50,11.80 A6.90,6.90 0 0 1 43.80,11.60 A3.90,3.90 0 0 1 51.00,13.60 A5.20,5.20 0 0 1 60.00,17.00 L60,26.8 L44,27 L30,22 Z" fill="url(#g4)" stroke="#85878e" stroke-width="0.40"/><path d="M33,19.5 Q36,15.5 40,18.5 Q42,20 44,18.5 Q49,13 54,18 Q57,20.5 60,19.5 L60,26.8 L44,27 Z" fill="#4d4f56" fill-opacity="0.26"/><linearGradient id="g5" gradientUnits="userSpaceOnUse" x1="0" y1="17.9" x2="0" y2="37.0"><stop offset="0.00" stop-color="#eff0f6"/><stop offset="0.27" stop-color="#dedfe6"/><stop offset="0.45" stop-color="#b4b6bd"/><stop offset="0.68" stop-color="#888a91"/><stop offset="1.00" stop-color="#696b71"/></linearGradient><path d="M5.20,29.00 A5.00,5.00 0 0 1 13.60,24.30 A5.40,5.40 0 0 1 22.60,20.90 A7.00,7.00 0 0 1 35.00,20.40 A4.40,4.40 0 0 1 42.00,23.80 A4.30,4.30 0 0 1 48.60,27.30 C53.5,29.5 52.8,36.7 46.5,36.7 Q28,37.4 9,36.7 C3.5,36.7 2,31.5 5.2,29 Z" fill="url(#g5)" stroke="#b5b7be" stroke-width="0.40"/><path d="M6,32 Q8,27.5 12,27.5 Q15,22.5 20,25 Q24,28 27,26.5 Q31,22.5 36,25.5 Q39,28 42,27.5 Q47,27 50,32 Q51,36.7 46.5,36.7 L9,36.7 Q5,36.7 6,32 Z" fill="#4d4f56" fill-opacity="0.26"/></g><g id="cgrp"><linearGradient id="g6" gradientUnits="userSpaceOnUse" x1="0" y1="12.8" x2="0" y2="31.0"><stop offset="0.00" stop-color="#f1f2f8"/><stop offset="0.35" stop-color="#e2e3eb"/><stop offset="0.70" stop-color="#a4a6ae"/><stop offset="1.00" stop-color="#7b7d84"/></linearGradient><path d="M14.50,27.50 A3.10,3.10 0 0 1 17.00,21.80 A4.80,4.80 0 0 1 25.00,17.80 A6.40,6.40 0 0 1 37.00,16.50 A4.00,4.00 0 0 1 44.00,19.50 A3.60,3.60 0 0 1 49.00,24.00 C51,26 51,30 49,31 L14.5,31 Z" fill="url(#g6)" stroke="#dfe0e6" stroke-width="0.30"/><linearGradient id="g7" gradientUnits="userSpaceOnUse" x1="0" y1="21.8" x2="0" y2="40.6"><stop offset="0.00" stop-color="#f3f4f9"/><stop offset="0.28" stop-color="#e4e5ec"/><stop offset="0.55" stop-color="#aaacb4"/><stop offset="0.80" stop-color="#7d7f86"/><stop offset="1.00" stop-color="#66686e"/></linearGradient><path d="M12.30,34.50 A3.70,3.70 0 0 1 16.50,29.00 A4.40,4.40 0 0 1 23.50,25.60 A6.00,6.00 0 0 1 35.00,25.00 A2.80,2.80 0 0 1 39.50,27.50 L42,40.3 L16,40.3 C11.3,40.3 10.3,36.3 12.3,34.5 Z" fill="url(#g7)" stroke="#dfe0e6" stroke-width="0.35"/><linearGradient id="g8" gradientUnits="userSpaceOnUse" x1="0" y1="24.3" x2="0" y2="40.6"><stop offset="0.00" stop-color="#f3f4f9"/><stop offset="0.28" stop-color="#e4e5ec"/><stop offset="0.55" stop-color="#aaacb4"/><stop offset="0.80" stop-color="#7d7f86"/><stop offset="1.00" stop-color="#66686e"/></linearGradient><path d="M29.00,35.50 A3.60,3.60 0 0 1 33.50,30.50 A3.00,3.00 0 0 1 38.00,27.50 A5.50,5.50 0 0 1 48.00,27.50 A3.40,3.40 0 0 1 53.50,30.50 A3.00,3.00 0 0 1 57.30,34.50 C59.6,36 59.2,40.3 55,40.3 L32,40.3 C28,40.3 27.2,37 29,35.5 Z" fill="url(#g8)" stroke="#e8e9ee" stroke-width="0.50"/></g><symbol id="wx-cn" viewBox="0 0 59 59" preserveAspectRatio="none"><rect width="59" height="59" fill="#09090f"/><use href="#ocg"/></symbol><symbol id="wx-cd" viewBox="0 0 59 59" preserveAspectRatio="none"><rect width="59" height="59" fill="url(#gsky)"/><use href="#ocg"/></symbol><symbol id="wx-pd" viewBox="0 0 59 59" preserveAspectRatio="none"><rect width="59" height="59" fill="url(#sky)"/><g filter="url(#bl)"><path d="M26.9,15.4 L29.5,5.2 L32.1,15.4 Z M32.5,15.5 L38.9,7.1 L37.4,17.5 Z M37.7,17.7 L46.8,12.4 L41.5,21.5 Z M41.7,21.8 L52.1,20.3 L43.7,26.7 Z M43.8,27.1 L54.0,29.7 L43.8,32.3 Z M43.7,32.7 L52.1,39.1 L41.7,37.6 Z M41.5,37.9 L46.8,47.0 L37.7,41.7 Z M37.4,41.9 L38.9,52.3 L32.5,43.9 Z M32.1,44.0 L29.5,54.2 L26.9,44.0 Z M26.5,43.9 L20.1,52.3 L21.6,41.9 Z M21.3,41.7 L12.2,47.0 L17.5,37.9 Z M17.3,37.6 L6.9,39.1 L15.3,32.7 Z M15.2,32.3 L5.0,29.7 L15.2,27.1 Z M15.3,26.7 L6.9,20.3 L17.3,21.8 Z M17.5,21.5 L12.2,12.4 L21.3,17.7 Z M21.6,17.5 L20.1,7.1 L26.5,15.5 Z " fill="#f8e258"/><circle cx="29.5" cy="29.7" r="16.4" fill="#fffbe2"/></g><circle cx="29.5" cy="29.7" r="15.3" fill="url(#sung)"/><linearGradient id="g9" gradientUnits="userSpaceOnUse" x1="0" y1="22.0" x2="0" y2="42.0"><stop offset="0.00" stop-color="#f1f2f8"/><stop offset="0.35" stop-color="#e2e3eb"/><stop offset="0.70" stop-color="#9d9fa8"/><stop offset="1.00" stop-color="#7b7d84"/></linearGradient><path d="M26.60,36.00 A3.20,3.20 0 0 1 29.50,31.00 A5.30,5.30 0 0 1 38.00,26.80 A7.60,7.60 0 0 1 51.50,25.50 A3.60,3.60 0 0 1 57.50,27.50 A3.00,3.00 0 0 1 61.00,30.00 L61,45 L30,45 C27,43 26,38 26.6,36 Z" fill="url(#g9)" stroke="#dfe0e6" stroke-width="0.30"/><linearGradient id="g10" gradientUnits="userSpaceOnUse" x1="0" y1="31.3" x2="0" y2="51.8"><stop offset="0.00" stop-color="#f3f4f9"/><stop offset="0.28" stop-color="#e4e5ec"/><stop offset="0.55" stop-color="#aaacb4"/><stop offset="0.80" stop-color="#7d7f86"/><stop offset="1.00" stop-color="#66686e"/></linearGradient><path d="M24.70,44.30 A3.40,3.40 0 0 1 27.80,39.00 A6.40,6.40 0 0 1 38.50,33.80 A6.20,6.20 0 0 1 49.40,35.50 L61,38 L61,51.4 L28.5,51.4 C24,51.4 22.8,46.5 24.7,44.3 Z" fill="url(#g10)" stroke="#dfe0e6" stroke-width="0.35"/><linearGradient id="g11" gradientUnits="userSpaceOnUse" x1="0" y1="34.3" x2="0" y2="51.8"><stop offset="0.00" stop-color="#f3f4f9"/><stop offset="0.28" stop-color="#e4e5ec"/><stop offset="0.55" stop-color="#aaacb4"/><stop offset="0.80" stop-color="#7d7f86"/><stop offset="1.00" stop-color="#66686e"/></linearGradient><path d="M42.60,47.00 A3.30,3.30 0 0 1 46.00,42.00 A3.90,3.90 0 0 1 51.50,37.50 A5.60,5.60 0 0 1 61.00,35.50 L61,51.4 L46,51.4 C41.8,51.4 41,48.5 42.6,47 Z" fill="url(#g11)" stroke="#e8e9ee" stroke-width="0.55"/></symbol><symbol id="wx-pn" viewBox="0 0 59 59" preserveAspectRatio="none"><rect width="59" height="59" fill="#09090f"/><circle cx="19.3" cy="21.8" r="15.4" fill="#ecedb5"/><circle cx="9.2" cy="18.6" r="2.3" fill="#d7d99b"/><circle cx="18.9" cy="16.6" r="2.7" fill="#d7d99b"/><circle cx="16.4" cy="25.5" r="2.1" fill="#d7d99b"/><linearGradient id="g12" gradientUnits="userSpaceOnUse" x1="0" y1="12.8" x2="0" y2="37.0"><stop offset="0.00" stop-color="#f1f2f8"/><stop offset="0.35" stop-color="#e2e3eb"/><stop offset="0.70" stop-color="#9d9fa8"/><stop offset="1.00" stop-color="#74767d"/></linearGradient><path d="M18.30,31.00 A3.40,3.40 0 0 1 21.50,25.50 A6.80,6.80 0 0 1 31.50,18.50 A8.20,8.20 0 0 1 46.00,16.20 A4.50,4.50 0 0 1 52.50,19.00 A4.00,4.00 0 0 1 58.00,22.50 A2.50,2.50 0 0 1 61.00,25.00 L61,38 L24,38 C20,38 17,34 18.3,31 Z" fill="url(#g12)" stroke="#dfe0e6" stroke-width="0.30"/><linearGradient id="g13" gradientUnits="userSpaceOnUse" x1="0" y1="21.5" x2="0" y2="45.7"><stop offset="0.00" stop-color="#f3f4f9"/><stop offset="0.28" stop-color="#e4e5ec"/><stop offset="0.55" stop-color="#aaacb4"/><stop offset="0.80" stop-color="#7d7f86"/><stop offset="1.00" stop-color="#66686e"/></linearGradient><path d="M23.00,38.50 A3.50,3.50 0 0 1 27.00,33.00 A6.50,6.50 0 0 1 36.50,25.80 A6.80,6.80 0 0 1 48.50,25.00 A2.50,2.50 0 0 1 51.00,28.00 L61,30 L61,45.3 L27,45.3 C22.5,45.3 21,41 23,38.5 Z" fill="url(#g13)" stroke="#dfe0e6" stroke-width="0.35"/><linearGradient id="g14" gradientUnits="userSpaceOnUse" x1="0" y1="25.0" x2="0" y2="45.9"><stop offset="0.00" stop-color="#f3f4f9"/><stop offset="0.28" stop-color="#e4e5ec"/><stop offset="0.55" stop-color="#aaacb4"/><stop offset="0.80" stop-color="#7d7f86"/><stop offset="1.00" stop-color="#66686e"/></linearGradient><path d="M37.40,40.00 A3.60,3.60 0 0 1 41.50,34.50 A4.20,4.20 0 0 1 47.50,29.50 A7.50,7.50 0 0 1 61.00,27.50 L61,45.6 L41,45.6 C36.5,45.6 35.5,42 37.4,40 Z" fill="url(#g14)" stroke="#e8e9ee" stroke-width="0.55"/></symbol><symbol id="wx-mn" viewBox="0 0 59 59" preserveAspectRatio="none"><rect width="59" height="59" fill="#09090f"/><circle cx="38.8" cy="8.0" r="1.15" fill="#8c8c78"/><circle cx="40.7" cy="20.6" r="1.15" fill="#8c8c78"/><circle cx="15.4" cy="45.5" r="1.15" fill="#8c8c78"/><circle cx="33.2" cy="49.4" r="1.15" fill="#8c8c78"/><circle cx="19.9" cy="22.0" r="14.0" fill="url(#moong)"/><circle cx="11.5" cy="19.4" r="2.0" fill="#d7d99b"/><circle cx="19.2" cy="17.3" r="2.4" fill="#d7d99b"/><circle cx="24.2" cy="21.3" r="2.3" fill="#d7d99b"/><circle cx="17.5" cy="24.4" r="1.5" fill="#d7d99b"/><circle cx="18.8" cy="26.9" r="2.2" fill="#d7d99b"/></symbol><symbol id="wx-sd" viewBox="0 0 59 59" preserveAspectRatio="none"><rect width="59" height="59" fill="url(#sky)"/><circle cx="29.4" cy="29.6" r="16.9" fill="#fff" filter="url(#bl2)"/><path d="M29.5,16.0 L33.2,10.6 L34.5,17.0 Z M34.7,17.1 L40.1,13.5 L39.0,19.9 Z M39.1,20.0 L45.5,18.9 L41.9,24.3 Z M42.0,24.5 L48.4,25.8 L43.0,29.5 Z M43.0,29.7 L48.4,33.4 L42.0,34.7 Z M41.9,34.9 L45.5,40.3 L39.1,39.2 Z M39.0,39.3 L40.1,45.7 L34.7,42.1 Z M34.5,42.2 L33.2,48.6 L29.5,43.2 Z M29.3,43.2 L25.6,48.6 L24.3,42.2 Z M24.1,42.1 L18.7,45.7 L19.8,39.3 Z M19.7,39.2 L13.3,40.3 L16.9,34.9 Z M16.8,34.7 L10.4,33.4 L15.8,29.7 Z M15.8,29.5 L10.4,25.8 L16.8,24.5 Z M16.9,24.3 L13.3,18.9 L19.7,20.0 Z M19.8,19.9 L18.7,13.5 L24.1,17.1 Z M24.3,17.0 L25.6,10.6 L29.3,16.0 Z " fill="#fff"/><path d="M27.3,14.9 L29.4,4.8 L31.5,14.9 Z M33.1,15.3 L38.9,6.7 L36.9,16.8 Z M38.3,17.8 L46.9,12.1 L41.2,20.7 Z M42.2,22.1 L52.3,20.1 L43.7,25.9 Z M44.1,27.5 L54.2,29.6 L44.1,31.7 Z M43.7,33.3 L52.3,39.1 L42.2,37.1 Z M41.2,38.5 L46.9,47.1 L38.3,41.4 Z M36.9,42.4 L38.9,52.5 L33.1,43.9 Z M31.5,44.3 L29.4,54.4 L27.3,44.3 Z M25.7,43.9 L19.9,52.5 L21.9,42.4 Z M20.5,41.4 L11.9,47.1 L17.6,38.5 Z M16.6,37.1 L6.5,39.1 L15.1,33.3 Z M14.7,31.7 L4.6,29.6 L14.7,27.5 Z M15.1,25.9 L6.5,20.1 L16.6,22.1 Z M17.6,20.7 L11.9,12.1 L20.5,17.8 Z M21.9,16.8 L19.9,6.7 L25.7,15.3 Z " fill="#f3da56"/><circle cx="29.4" cy="29.6" r="15.1" fill="url(#sung)"/></symbol><symbol id="wx-rd" viewBox="0 0 59 59" preserveAspectRatio="none"><rect width="59" height="59" fill="url(#sky)"/><g filter="url(#bl)"><path d="M17.9,9.6 L19.7,2.8 L21.5,9.6 Z M21.7,9.6 L25.9,4.0 L25.0,11.0 Z M25.2,11.1 L31.2,7.6 L27.7,13.6 Z M27.8,13.8 L34.8,12.9 L29.2,17.1 Z M29.2,17.3 L36.0,19.1 L29.2,20.9 Z M29.2,21.1 L34.8,25.3 L27.8,24.4 Z M27.7,24.6 L31.2,30.6 L25.2,27.1 Z M25.0,27.2 L25.9,34.2 L21.7,28.6 Z M21.5,28.6 L19.7,35.4 L17.9,28.6 Z M17.7,28.6 L13.5,34.2 L14.4,27.2 Z M14.2,27.1 L8.2,30.6 L11.7,24.6 Z M11.6,24.4 L4.6,25.3 L10.2,21.1 Z M10.2,20.9 L3.4,19.1 L10.2,17.3 Z M10.2,17.1 L4.6,12.9 L11.6,13.8 Z M11.7,13.6 L8.2,7.6 L14.2,11.1 Z M14.4,11.0 L13.5,4.0 L17.7,9.6 Z " fill="#f8e258"/><circle cx="19.7" cy="19.1" r="10.9" fill="#fffbe2"/></g><circle cx="19.7" cy="19.1" r="10.2" fill="url(#sung)"/><use href="#cgrp"/><path d="M18.1,42.3 L14.2,49.8 M33.1,42.3 L29.2,49.8 M48.1,42.3 L44.1,49.8 M22.1,49.4 L18.1,56.9 M37.0,49.4 L33.1,56.9" stroke="#f4f5fb" stroke-opacity="0.95" stroke-width="1.5" fill="none"/></symbol><symbol id="wx-rn" viewBox="0 0 59 59" preserveAspectRatio="none"><rect width="59" height="59" fill="#09090f"/><circle cx="16.9" cy="18.7" r="13.2" fill="#ecedb5"/><circle cx="8.3" cy="16.0" r="1.9" fill="#d7d99b"/><circle cx="16.5" cy="14.2" r="2.3" fill="#d7d99b"/><circle cx="14.4" cy="21.9" r="1.8" fill="#d7d99b"/><use href="#cgrp" transform="translate(0.60,-6.50) scale(1.090)"/><path d="M23.6,40.3 L19.3,48.2 M38.6,40.3 L34.3,48.2 M53.6,40.0 L49.3,48.2 M27.6,49.4 L23.2,56.9 M42.6,49.4 L38.2,56.9" stroke="#7c7690" stroke-opacity="1.00" stroke-width="1.5" fill="none"/></symbol></defs></svg>
<svg class="abs" style="left:70.0px;top:700.0px" width="58.8" height="59.0"><use href="#wx-cn" width="58.8" height="59.0"/></svg>
<svg class="abs" style="left:132.0px;top:700.0px" width="58.8" height="59.0"><use href="#wx-pd" width="58.8" height="59.0"/></svg>
<svg class="abs" style="left:193.0px;top:700.0px" width="58.8" height="59.0"><use href="#wx-pd" width="58.8" height="59.0"/></svg>
<svg class="abs" style="left:253.2px;top:700.0px" width="58.8" height="59.0"><use href="#wx-pn" width="58.8" height="59.0"/></svg>
<svg class="abs" style="left:313.3px;top:700.0px" width="58.7" height="59.0"><use href="#wx-pn" width="58.7" height="59.0"/></svg>
<svg class="abs" style="left:373.3px;top:700.0px" width="58.7" height="59.0"><use href="#wx-cd" width="58.7" height="59.0"/></svg>
<svg class="abs" style="left:433.3px;top:700.0px" width="58.7" height="59.0"><use href="#wx-cd" width="58.7" height="59.0"/></svg>
<svg class="abs" style="left:493.3px;top:700.0px" width="58.7" height="59.0"><use href="#wx-mn" width="58.7" height="59.0"/></svg>
<svg class="abs" style="left:553.3px;top:700.0px" width="58.7" height="59.0"><use href="#wx-mn" width="58.7" height="59.0"/></svg>
<svg class="abs" style="left:613.3px;top:700.0px" width="58.7" height="59.0"><use href="#wx-sd" width="58.7" height="59.0"/></svg>
<svg class="abs" style="left:673.3px;top:700.0px" width="58.7" height="59.0"><use href="#wx-pd" width="58.7" height="59.0"/></svg>
<svg class="abs" style="left:733.3px;top:700.0px" width="58.7" height="59.0"><use href="#wx-pn" width="58.7" height="59.0"/></svg>
<svg class="abs" style="left:793.3px;top:700.0px" width="58.7" height="59.0"><use href="#wx-pn" width="58.7" height="59.0"/></svg>
<svg class="abs" style="left:853.3px;top:700.0px" width="58.7" height="59.0"><use href="#wx-pd" width="58.7" height="59.0"/></svg>
<svg class="abs" style="left:913.3px;top:700.0px" width="58.7" height="59.0"><use href="#wx-rd" width="58.7" height="59.0"/></svg>
<svg class="abs" style="left:973.3px;top:700.0px" width="58.7" height="59.0"><use href="#wx-rn" width="58.7" height="59.0"/></svg>
<svg class="abs" style="left:1033.3px;top:700.0px" width="58.7" height="59.0"><use href="#wx-rn" width="58.7" height="59.0"/></svg>
<svg class="abs" style="left:1093.3px;top:700.0px" width="58.7" height="59.0"><use href="#wx-pd" width="58.7" height="59.0"/></svg>
<svg class="abs" style="left:1153.3px;top:700.0px" width="58.7" height="59.0"><use href="#wx-cd" width="58.7" height="59.0"/></svg>
<svg class="abs" style="left:1213.3px;top:700.0px" width="58.7" height="59.0"><use href="#wx-mn" width="58.7" height="59.0"/></svg>
<svg class="abs" style="left:1273.3px;top:700.0px" width="58.7" height="59.0"><use href="#wx-mn" width="58.7" height="59.0"/></svg>
<svg class="abs" style="left:1333.3px;top:700.0px" width="58.7" height="59.0"><use href="#wx-sd" width="58.7" height="59.0"/></svg>
<svg class="abs" style="left:1393.3px;top:700.0px" width="58.7" height="59.0"><use href="#wx-pd" width="58.7" height="59.0"/></svg>
<svg class="abs" style="left:1453.3px;top:700.0px" width="58.7" height="59.0"><use href="#wx-pn" width="58.7" height="59.0"/></svg>
<svg class="abs" style="left:1513.3px;top:700.0px" width="58.7" height="59.0"><use href="#wx-pn" width="58.7" height="59.0"/></svg>
<svg class="abs" style="left:1573.3px;top:700.0px" width="58.7" height="59.0"><use href="#wx-pd" width="58.7" height="59.0"/></svg>
<svg class="abs" style="left:1633.3px;top:700.0px" width="58.7" height="59.0"><use href="#wx-cd" width="58.7" height="59.0"/></svg>
<svg class="abs" style="left:1693.3px;top:700.0px" width="58.7" height="59.0"><use href="#wx-cn" width="58.7" height="59.0"/></svg>
<div class="wm" style="left:25.6px;top:765px;color:#e6e6e6">Powered by Tide-Forecast.com</div>
<svg class="abs" style="left:251.0px;top:765.5px" width="56" height="18" viewBox="0 0 56 18"><rect x="2" y="1" width="16" height="15.5" fill="#e8e8e8"/><rect x="20.5" y="1" width="15.5" height="15.5" fill="#e8e8e8"/><rect x="39" y="1" width="16" height="15.5" fill="#e8e8e8"/><path d="M3,13 C5,-4 7,-4 9,9 C10,16 12,16 13,9 C14,2 16,2 17,13" fill="none" stroke="#f7f7f7" stroke-width="1.2"/><path d="M23,6 H31 V12 M28.5,10 L31,13 L33.5,10" fill="none" stroke="#f7f7f7" stroke-width="1.6"/><path d="M47,3 L51,14 H43 Z" fill="#f7f7f7"/></svg>
<div class="wm" style="left:365.6px;top:765px;color:#e6e6e6">Powered by Tide-Forecast.com</div>
<svg class="abs" style="left:591.0px;top:765.5px" width="56" height="18" viewBox="0 0 56 18"><rect x="2" y="1" width="16" height="15.5" fill="#e8e8e8"/><rect x="20.5" y="1" width="15.5" height="15.5" fill="#e8e8e8"/><rect x="39" y="1" width="16" height="15.5" fill="#e8e8e8"/><path d="M3,13 C5,-4 7,-4 9,9 C10,16 12,16 13,9 C14,2 16,2 17,13" fill="none" stroke="#f7f7f7" stroke-width="1.2"/><path d="M23,6 H31 V12 M28.5,10 L31,13 L33.5,10" fill="none" stroke="#f7f7f7" stroke-width="1.6"/><path d="M47,3 L51,14 H43 Z" fill="#f7f7f7"/></svg>
<div class="wm" style="left:705.6px;top:765px;color:#e6e6e6">Powered by Tide-Forecast.com</div>
<svg class="abs" style="left:931.0px;top:765.5px" width="56" height="18" viewBox="0 0 56 18"><rect x="2" y="1" width="16" height="15.5" fill="#e8e8e8"/><rect x="20.5" y="1" width="15.5" height="15.5" fill="#e8e8e8"/><rect x="39" y="1" width="16" height="15.5" fill="#e8e8e8"/><path d="M3,13 C5,-4 7,-4 9,9 C10,16 12,16 13,9 C14,2 16,2 17,13" fill="none" stroke="#f7f7f7" stroke-width="1.2"/><path d="M23,6 H31 V12 M28.5,10 L31,13 L33.5,10" fill="none" stroke="#f7f7f7" stroke-width="1.6"/><path d="M47,3 L51,14 H43 Z" fill="#f7f7f7"/></svg>
<div class="wm" style="left:1045.6px;top:765px;color:#e6e6e6">Powered by Tide-Forecast.com</div>
<svg class="abs" style="left:1271.0px;top:765.5px" width="56" height="18" viewBox="0 0 56 18"><rect x="2" y="1" width="16" height="15.5" fill="#e8e8e8"/><rect x="20.5" y="1" width="15.5" height="15.5" fill="#e8e8e8"/><rect x="39" y="1" width="16" height="15.5" fill="#e8e8e8"/><path d="M3,13 C5,-4 7,-4 9,9 C10,16 12,16 13,9 C14,2 16,2 17,13" fill="none" stroke="#f7f7f7" stroke-width="1.2"/><path d="M23,6 H31 V12 M28.5,10 L31,13 L33.5,10" fill="none" stroke="#f7f7f7" stroke-width="1.6"/><path d="M47,3 L51,14 H43 Z" fill="#f7f7f7"/></svg>
<div class="wm" style="left:1385.6px;top:765px;color:#e6e6e6">Powered by Tide-Forecast.com</div>
<svg class="abs" style="left:1611.0px;top:765.5px" width="56" height="18" viewBox="0 0 56 18"><rect x="2" y="1" width="16" height="15.5" fill="#e8e8e8"/><rect x="20.5" y="1" width="15.5" height="15.5" fill="#e8e8e8"/><rect x="39" y="1" width="16" height="15.5" fill="#e8e8e8"/><path d="M3,13 C5,-4 7,-4 9,9 C10,16 12,16 13,9 C14,2 16,2 17,13" fill="none" stroke="#f7f7f7" stroke-width="1.2"/><path d="M23,6 H31 V12 M28.5,10 L31,13 L33.5,10" fill="none" stroke="#f7f7f7" stroke-width="1.6"/><path d="M47,3 L51,14 H43 Z" fill="#f7f7f7"/></svg>
<div class="abs" style="left:0;top:760px;width:69px;height:27px;background:#fafafa"></div>
<div class="abs" style="left:69px;top:760px;width:1px;height:27px;background:#555f6a"></div>
</body></html>
